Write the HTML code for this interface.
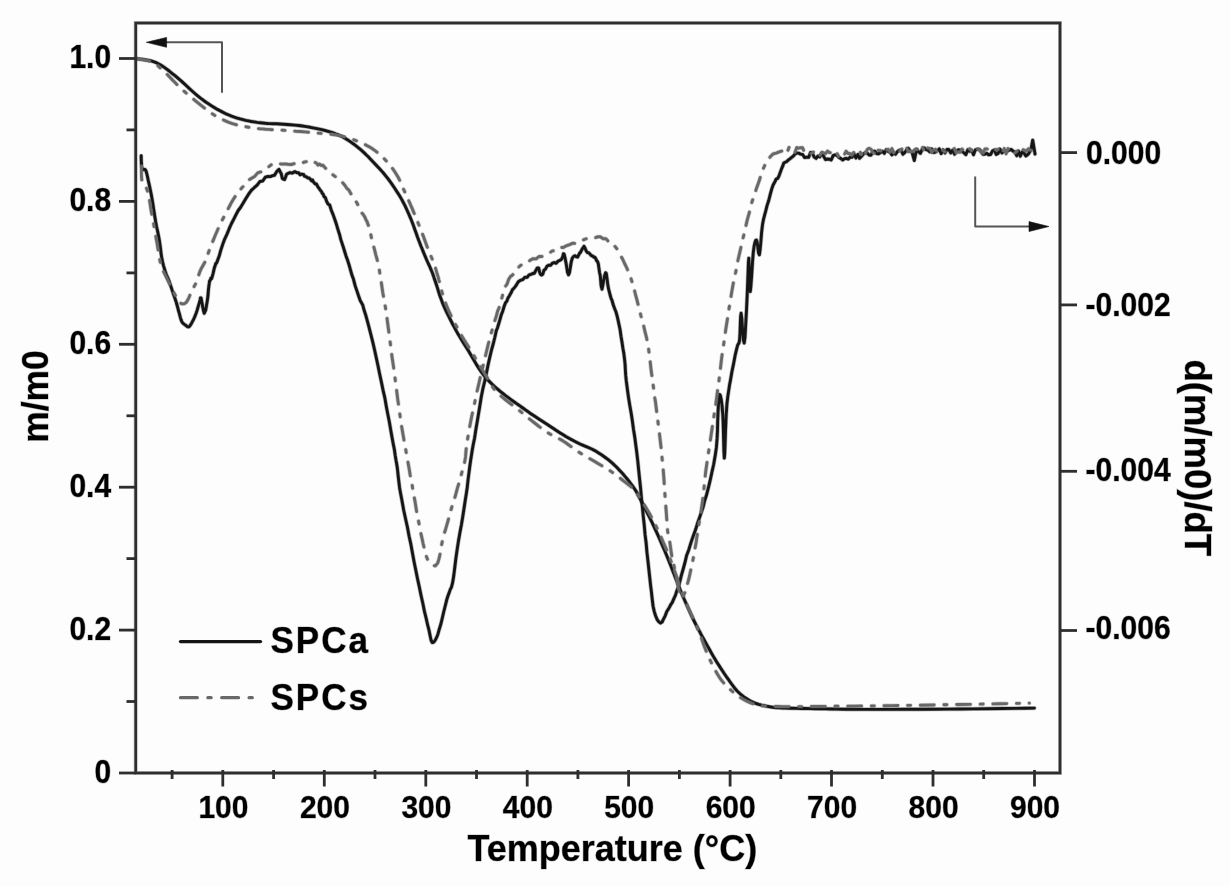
<!DOCTYPE html>
<html><head><meta charset="utf-8"><style>html,body{margin:0;padding:0;background:#fdfdfd;overflow:hidden}svg{display:block;will-change:transform}</style></head><body>
<svg width="1230" height="886" viewBox="0 0 1230 886">
<rect x="0" y="0" width="1230" height="886" fill="#fdfdfd"/>
<path d="M136.0,58.5 L137.8,58.8 L140.3,59.1 L143.3,59.5 L146.4,60.0 L149.4,60.5 L152.0,61.2 L154.2,61.9 L156.1,62.6 L157.9,63.5 L159.7,64.5 L161.7,65.6 L163.9,67.1 L166.4,68.9 L169.2,71.0 L172.0,73.3 L175.0,75.7 L177.9,78.2 L180.8,80.6 L183.6,83.1 L186.4,85.7 L189.2,88.4 L192.1,91.0 L194.9,93.5 L197.7,95.9 L200.5,98.1 L203.3,100.2 L206.1,102.2 L209.0,104.1 L211.8,106.0 L214.6,107.7 L217.4,109.4 L220.3,110.9 L223.1,112.4 L225.9,113.8 L228.8,115.0 L231.6,116.2 L234.4,117.2 L237.2,118.1 L240.1,118.9 L242.9,119.6 L245.7,120.3 L248.5,120.9 L251.3,121.5 L254.2,121.9 L257.1,122.4 L259.9,122.7 L262.7,123.0 L265.4,123.3 L267.9,123.5 L270.1,123.6 L272.3,123.7 L274.6,123.7 L277.1,123.8 L280.0,124.0 L283.3,124.2 L286.9,124.5 L290.8,124.8 L294.8,125.1 L298.7,125.5 L302.6,126.0 L306.4,126.6 L310.4,127.3 L314.3,128.1 L318.2,128.9 L321.8,129.7 L325.1,130.5 L328.1,131.3 L330.8,132.1 L333.3,132.9 L335.6,133.8 L337.8,134.6 L340.0,135.6 L342.1,136.6 L344.0,137.7 L345.9,138.8 L347.7,139.9 L349.5,141.1 L351.3,142.4 L353.2,143.7 L355.1,145.2 L357.0,146.6 L358.8,148.1 L360.7,149.7 L362.6,151.4 L364.5,153.1 L366.4,155.0 L368.3,156.8 L370.1,158.8 L372.0,160.7 L373.9,162.7 L375.8,164.7 L377.7,166.8 L379.6,168.8 L381.5,170.9 L383.4,173.0 L385.1,175.1 L386.7,177.1 L388.3,179.1 L389.8,181.2 L391.3,183.2 L392.7,185.3 L394.2,187.5 L395.7,189.8 L397.2,192.1 L398.8,194.5 L400.3,197.0 L401.8,199.6 L403.2,202.2 L404.6,204.9 L405.9,207.7 L407.2,210.5 L408.5,213.4 L409.8,216.4 L411.1,219.5 L412.4,222.8 L413.7,226.2 L414.9,229.8 L416.2,233.3 L417.4,236.8 L418.6,240.0 L419.8,243.1 L420.9,246.0 L422.1,248.8 L423.2,251.6 L424.3,254.3 L425.4,256.9 L426.5,259.5 L427.6,262.0 L428.7,264.4 L429.8,266.7 L430.7,268.9 L431.6,271.0 L432.3,272.7 L432.8,274.0 L433.2,275.2 L433.7,276.6 L434.2,278.2 L435.0,280.5 L436.0,283.5 L437.2,287.1 L438.4,291.1 L439.7,295.2 L441.1,299.1 L442.4,302.6 L443.7,305.7 L445.0,308.7 L446.3,311.5 L447.6,314.2 L449.0,316.9 L450.3,319.5 L451.6,322.0 L452.8,324.5 L454.1,326.8 L455.4,329.2 L456.7,331.6 L458.2,334.2 L459.9,337.0 L461.6,339.9 L463.5,342.9 L465.4,345.9 L467.3,348.9 L469.0,351.7 L470.6,354.5 L472.2,357.2 L473.8,359.9 L475.3,362.5 L476.7,364.9 L478.1,367.1 L479.4,369.1 L480.5,370.8 L481.6,372.3 L482.7,373.8 L483.9,375.4 L485.3,377.0 L486.9,378.8 L488.5,380.6 L490.3,382.4 L492.2,384.2 L494.1,386.1 L496.1,387.9 L498.2,389.7 L500.5,391.6 L502.9,393.5 L505.3,395.4 L507.6,397.1 L509.7,398.7 L511.6,400.1 L513.3,401.3 L515.0,402.5 L516.6,403.6 L518.2,404.7 L520.0,405.9 L521.8,407.2 L523.6,408.5 L525.5,409.9 L527.4,411.2 L529.4,412.7 L531.6,414.2 L534.0,415.8 L536.6,417.5 L539.2,419.2 L542.0,421.0 L544.7,422.8 L547.4,424.5 L550.0,426.2 L552.7,428.0 L555.3,429.8 L557.9,431.5 L560.6,433.2 L563.2,434.8 L565.8,436.4 L568.5,437.9 L571.1,439.4 L573.7,440.8 L576.4,442.2 L579.0,443.5 L581.6,444.7 L584.3,445.8 L586.9,446.9 L589.5,448.0 L592.2,449.2 L594.8,450.6 L597.5,452.2 L600.2,453.9 L602.9,455.8 L605.6,457.7 L608.2,459.6 L610.6,461.6 L612.9,463.6 L615.1,465.7 L617.2,467.8 L619.2,469.9 L621.2,472.1 L623.2,474.3 L625.2,476.6 L627.2,479.0 L629.1,481.4 L630.9,483.8 L632.7,486.2 L634.3,488.5 L635.7,490.6 L636.8,492.5 L637.8,494.3 L638.8,496.3 L640.0,498.6 L641.5,501.5 L643.3,505.0 L645.3,509.0 L647.5,513.3 L649.8,517.8 L652.0,522.4 L654.2,527.0 L656.3,531.6 L658.5,536.4 L660.6,541.3 L662.7,546.2 L664.8,551.0 L666.8,555.8 L668.8,560.7 L670.8,565.7 L672.7,570.7 L674.6,575.4 L676.2,579.8 L677.7,583.5 L678.8,586.3 L679.6,588.3 L680.2,589.9 L680.9,591.5 L681.7,593.4 L682.8,596.0 L684.3,599.5 L686.1,603.5 L688.1,608.0 L690.1,612.5 L692.1,616.9 L694.1,621.0 L696.0,624.8 L697.9,628.4 L699.8,631.9 L701.6,635.4 L703.5,638.8 L705.4,642.2 L707.3,645.6 L709.2,649.0 L711.0,652.3 L712.9,655.6 L714.8,658.8 L716.7,661.9 L718.6,664.9 L720.5,667.9 L722.4,670.7 L724.2,673.5 L726.1,676.3 L728.0,678.9 L729.8,681.5 L731.6,684.0 L733.4,686.4 L735.2,688.8 L737.2,691.0 L739.2,693.0 L741.4,694.9 L743.6,696.7 L746.0,698.3 L748.4,699.8 L750.9,701.2 L753.4,702.4 L756.0,703.5 L758.8,704.4 L761.6,705.1 L764.4,705.7 L767.3,706.3 L770.0,706.8 L772.6,707.2 L775.0,707.5 L777.4,707.7 L779.9,707.8 L782.6,708.0 L785.7,708.1 L789.2,708.2 L792.9,708.3 L796.9,708.4 L801.0,708.5 L805.5,708.5 L810.1,708.6 L815.0,708.7 L820.2,708.8 L825.5,708.9 L831.1,709.0 L836.8,709.1 L842.6,709.2 L848.1,709.3 L853.1,709.3 L858.3,709.4 L864.2,709.4 L871.2,709.4 L880.0,709.4 L890.9,709.4 L903.7,709.3 L917.7,709.3 L932.2,709.2 L946.5,709.1 L960.0,709.0 L973.6,708.9 L988.0,708.7 L1002.2,708.5 L1015.3,708.4 L1026.4,708.2 L1034.4,708.1" fill="none" stroke="#151515" stroke-opacity="0.3" stroke-width="4.3" stroke-linejoin="round" stroke-linecap="round"/>
<path d="M136.0,58.5 L137.8,58.8 L140.3,59.1 L143.3,59.5 L146.4,60.0 L149.4,60.5 L152.0,61.2 L154.2,61.9 L156.1,62.6 L157.9,63.5 L159.7,64.5 L161.7,65.6 L163.9,67.1 L166.4,68.9 L169.2,71.0 L172.0,73.3 L175.0,75.7 L177.9,78.2 L180.8,80.6 L183.6,83.1 L186.4,85.7 L189.2,88.4 L192.1,91.0 L194.9,93.5 L197.7,95.9 L200.5,98.1 L203.3,100.2 L206.1,102.2 L209.0,104.1 L211.8,106.0 L214.6,107.7 L217.4,109.4 L220.3,110.9 L223.1,112.4 L225.9,113.8 L228.8,115.0 L231.6,116.2 L234.4,117.2 L237.2,118.1 L240.1,118.9 L242.9,119.6 L245.7,120.3 L248.5,120.9 L251.3,121.5 L254.2,121.9 L257.1,122.4 L259.9,122.7 L262.7,123.0 L265.4,123.3 L267.9,123.5 L270.1,123.6 L272.3,123.7 L274.6,123.7 L277.1,123.8 L280.0,124.0 L283.3,124.2 L286.9,124.5 L290.8,124.8 L294.8,125.1 L298.7,125.5 L302.6,126.0 L306.4,126.6 L310.4,127.3 L314.3,128.1 L318.2,128.9 L321.8,129.7 L325.1,130.5 L328.1,131.3 L330.8,132.1 L333.3,132.9 L335.6,133.8 L337.8,134.6 L340.0,135.6 L342.1,136.6 L344.0,137.7 L345.9,138.8 L347.7,139.9 L349.5,141.1 L351.3,142.4 L353.2,143.7 L355.1,145.2 L357.0,146.6 L358.8,148.1 L360.7,149.7 L362.6,151.4 L364.5,153.1 L366.4,155.0 L368.3,156.8 L370.1,158.8 L372.0,160.7 L373.9,162.7 L375.8,164.7 L377.7,166.8 L379.6,168.8 L381.5,170.9 L383.4,173.0 L385.1,175.1 L386.7,177.1 L388.3,179.1 L389.8,181.2 L391.3,183.2 L392.7,185.3 L394.2,187.5 L395.7,189.8 L397.2,192.1 L398.8,194.5 L400.3,197.0 L401.8,199.6 L403.2,202.2 L404.6,204.9 L405.9,207.7 L407.2,210.5 L408.5,213.4 L409.8,216.4 L411.1,219.5 L412.4,222.8 L413.7,226.2 L414.9,229.8 L416.2,233.3 L417.4,236.8 L418.6,240.0 L419.8,243.1 L420.9,246.0 L422.1,248.8 L423.2,251.6 L424.3,254.3 L425.4,256.9 L426.5,259.5 L427.6,262.0 L428.7,264.4 L429.8,266.7 L430.7,268.9 L431.6,271.0 L432.3,272.7 L432.8,274.0 L433.2,275.2 L433.7,276.6 L434.2,278.2 L435.0,280.5 L436.0,283.5 L437.2,287.1 L438.4,291.1 L439.7,295.2 L441.1,299.1 L442.4,302.6 L443.7,305.7 L445.0,308.7 L446.3,311.5 L447.6,314.2 L449.0,316.9 L450.3,319.5 L451.6,322.0 L452.8,324.5 L454.1,326.8 L455.4,329.2 L456.7,331.6 L458.2,334.2 L459.9,337.0 L461.6,339.9 L463.5,342.9 L465.4,345.9 L467.3,348.9 L469.0,351.7 L470.6,354.5 L472.2,357.2 L473.8,359.9 L475.3,362.5 L476.7,364.9 L478.1,367.1 L479.4,369.1 L480.5,370.8 L481.6,372.3 L482.7,373.8 L483.9,375.4 L485.3,377.0 L486.9,378.8 L488.5,380.6 L490.3,382.4 L492.2,384.2 L494.1,386.1 L496.1,387.9 L498.2,389.7 L500.5,391.6 L502.9,393.5 L505.3,395.4 L507.6,397.1 L509.7,398.7 L511.6,400.1 L513.3,401.3 L515.0,402.5 L516.6,403.6 L518.2,404.7 L520.0,405.9 L521.8,407.2 L523.6,408.5 L525.5,409.9 L527.4,411.2 L529.4,412.7 L531.6,414.2 L534.0,415.8 L536.6,417.5 L539.2,419.2 L542.0,421.0 L544.7,422.8 L547.4,424.5 L550.0,426.2 L552.7,428.0 L555.3,429.8 L557.9,431.5 L560.6,433.2 L563.2,434.8 L565.8,436.4 L568.5,437.9 L571.1,439.4 L573.7,440.8 L576.4,442.2 L579.0,443.5 L581.6,444.7 L584.3,445.8 L586.9,446.9 L589.5,448.0 L592.2,449.2 L594.8,450.6 L597.5,452.2 L600.2,453.9 L602.9,455.8 L605.6,457.7 L608.2,459.6 L610.6,461.6 L612.9,463.6 L615.1,465.7 L617.2,467.8 L619.2,469.9 L621.2,472.1 L623.2,474.3 L625.2,476.6 L627.2,479.0 L629.1,481.4 L630.9,483.8 L632.7,486.2 L634.3,488.5 L635.7,490.6 L636.8,492.5 L637.8,494.3 L638.8,496.3 L640.0,498.6 L641.5,501.5 L643.3,505.0 L645.3,509.0 L647.5,513.3 L649.8,517.8 L652.0,522.4 L654.2,527.0 L656.3,531.6 L658.5,536.4 L660.6,541.3 L662.7,546.2 L664.8,551.0 L666.8,555.8 L668.8,560.7 L670.8,565.7 L672.7,570.7 L674.6,575.4 L676.2,579.8 L677.7,583.5 L678.8,586.3 L679.6,588.3 L680.2,589.9 L680.9,591.5 L681.7,593.4 L682.8,596.0 L684.3,599.5 L686.1,603.5 L688.1,608.0 L690.1,612.5 L692.1,616.9 L694.1,621.0 L696.0,624.8 L697.9,628.4 L699.8,631.9 L701.6,635.4 L703.5,638.8 L705.4,642.2 L707.3,645.6 L709.2,649.0 L711.0,652.3 L712.9,655.6 L714.8,658.8 L716.7,661.9 L718.6,664.9 L720.5,667.9 L722.4,670.7 L724.2,673.5 L726.1,676.3 L728.0,678.9 L729.8,681.5 L731.6,684.0 L733.4,686.4 L735.2,688.8 L737.2,691.0 L739.2,693.0 L741.4,694.9 L743.6,696.7 L746.0,698.3 L748.4,699.8 L750.9,701.2 L753.4,702.4 L756.0,703.5 L758.8,704.4 L761.6,705.1 L764.4,705.7 L767.3,706.3 L770.0,706.8 L772.6,707.2 L775.0,707.5 L777.4,707.7 L779.9,707.8 L782.6,708.0 L785.7,708.1 L789.2,708.2 L792.9,708.3 L796.9,708.4 L801.0,708.5 L805.5,708.5 L810.1,708.6 L815.0,708.7 L820.2,708.8 L825.5,708.9 L831.1,709.0 L836.8,709.1 L842.6,709.2 L848.1,709.3 L853.1,709.3 L858.3,709.4 L864.2,709.4 L871.2,709.4 L880.0,709.4 L890.9,709.4 L903.7,709.3 L917.7,709.3 L932.2,709.2 L946.5,709.1 L960.0,709.0 L973.6,708.9 L988.0,708.7 L1002.2,708.5 L1015.3,708.4 L1026.4,708.2 L1034.4,708.1" fill="none" stroke="#151515" stroke-width="2.9" stroke-linejoin="round" stroke-linecap="round"/>
<path d="M141.2,155.8 L141.2,157.8 L141.3,160.7 L141.4,163.7 L141.6,166.0 L141.8,167.4 L142.2,168.3 L142.5,169.0 L143.0,169.5 L143.6,169.7 L144.3,169.4 L145.0,169.5 L145.7,170.3 L146.4,172.1 L147.0,174.6 L147.7,177.7 L148.4,181.1 L149.3,185.0 L150.2,189.4 L151.2,194.2 L152.1,199.2 L153.0,204.7 L153.9,210.6 L154.8,216.5 L155.7,222.0 L156.6,226.8 L157.6,231.3 L158.5,235.6 L159.3,240.0 L160.0,244.6 L160.6,249.2 L161.1,253.8 L161.8,258.0 L162.6,261.9 L163.5,265.6 L164.5,269.0 L165.4,272.0 L166.3,274.5 L167.2,276.6 L168.1,278.6 L169.0,280.8 L169.9,283.4 L170.8,286.1 L171.7,288.9 L172.6,291.6 L173.5,294.3 L174.5,297.1 L175.4,299.8 L176.3,302.4 L177.0,305.0 L177.7,307.5 L178.3,310.0 L179.0,312.4 L179.7,314.8 L180.3,317.3 L181.0,319.6 L181.7,321.4 L182.5,322.7 L183.4,323.6 L184.4,324.4 L185.3,325.0 L186.2,325.7 L187.1,326.5 L188.0,326.9 L188.9,326.8 L189.8,326.0 L190.7,324.7 L191.6,323.1 L192.5,321.4 L193.4,319.7 L194.3,317.8 L195.2,315.6 L196.1,313.3 L197.1,310.4 L198.0,307.1 L199.0,303.9 L199.7,301.5 L200.2,299.5 L200.4,297.9 L200.7,298.3 L201.1,298.1 L201.8,301.8 L202.6,306.3 L203.4,310.3 L204.2,313.3 L204.9,311.9 L205.7,310.1 L206.4,306.1 L207.0,302.6 L207.5,299.3 L208.0,295.5 L208.4,290.0 L208.8,286.7 L209.0,285.0 L209.2,283.9 L209.4,282.1 L209.7,280.6 L210.2,280.5 L210.9,278.1 L211.7,278.4 L212.4,276.0 L213.1,273.3 L213.8,270.3 L214.4,267.6 L215.1,265.9 L215.7,263.5 L216.2,263.4 L216.8,262.5 L217.8,259.8 L219.2,256.0 L220.9,249.9 L222.8,244.1 L224.8,238.8 L226.9,234.4 L229.2,228.7 L231.5,223.5 L233.8,219.1 L236.0,214.7 L238.2,210.5 L240.5,207.5 L242.9,203.5 L245.6,198.9 L248.4,194.4 L251.3,190.4 L254.2,187.7 L257.1,185.2 L259.9,181.5 L262.7,181.0 L265.4,177.1 L267.9,176.5 L270.4,176.6 L272.6,175.6 L274.5,175.3 L275.9,172.9 L277.0,171.3 L278.0,170.1 L279.0,169.4 L280.1,171.7 L281.2,173.6 L282.4,178.6 L283.5,179.2 L284.5,179.6 L285.5,177.3 L286.6,174.2 L288.0,173.4 L290.0,172.6 L292.4,173.1 L294.9,171.6 L297.0,172.7 L298.7,172.8 L300.1,174.8 L301.4,174.1 L302.6,174.3 L303.6,174.4 L304.4,176.1 L305.1,176.4 L306.1,176.6 L307.4,177.8 L308.9,178.0 L310.3,179.1 L311.6,180.8 L312.6,180.0 L313.4,182.0 L314.1,182.6 L315.1,183.9 L316.4,184.0 L317.9,186.9 L319.3,188.7 L320.6,190.6 L321.6,191.8 L322.3,193.5 L323.1,194.0 L324.1,196.7 L325.3,197.5 L326.7,201.5 L328.2,204.2 L329.7,205.0 L331.3,210.2 L333.1,214.6 L334.9,219.8 L336.4,224.2 L337.6,228.3 L338.6,231.6 L339.7,235.0 L340.9,239.9 L342.5,244.6 L344.2,250.0 L346.0,255.9 L347.7,260.6 L349.2,265.3 L350.6,270.4 L352.0,275.3 L353.5,279.3 L355.2,285.9 L357.0,291.1 L358.7,296.3 L360.2,300.5 L361.2,302.3 L361.9,303.6 L362.7,304.9 L363.9,309.5 L365.8,315.4 L368.2,324.2 L370.7,333.8 L372.9,342.7 L374.8,351.0 L376.4,358.4 L378.1,366.2 L379.7,374.2 L381.4,382.1 L383.1,390.4 L384.8,397.7 L386.4,407.0 L387.9,414.7 L389.4,422.2 L390.8,430.4 L392.1,437.8 L393.3,444.2 L394.4,449.6 L395.3,456.0 L396.1,460.8 L396.6,463.4 L397.0,465.9 L397.3,467.8 L397.7,471.3 L398.2,476.2 L398.8,481.2 L399.6,487.9 L400.6,493.4 L402.0,500.8 L403.8,510.8 L405.6,519.0 L407.4,527.1 L409.1,536.2 L410.8,543.9 L412.5,553.2 L414.2,562.4 L415.9,570.7 L417.6,579.1 L419.3,586.9 L421.0,595.2 L422.7,602.8 L424.5,611.6 L426.2,618.5 L427.7,625.2 L429.0,630.2 L430.0,635.1 L431.0,640.0 L432.2,642.5 L433.5,642.3 L435.0,640.6 L436.5,637.7 L437.9,634.2 L439.3,629.1 L440.8,624.3 L442.2,618.5 L443.5,612.7 L444.7,608.0 L445.8,603.7 L446.9,599.2 L448.0,595.7 L449.1,592.9 L450.3,589.4 L451.5,587.1 L452.6,582.7 L453.7,576.1 L454.8,567.2 L455.9,558.3 L457.1,549.9 L458.4,541.4 L459.9,532.7 L461.4,524.8 L462.7,517.0 L463.9,509.2 L465.1,501.3 L466.2,494.4 L467.2,487.6 L468.1,479.4 L468.9,473.4 L469.7,467.0 L470.6,460.5 L471.5,455.0 L472.3,449.8 L473.3,444.2 L474.5,438.5 L476.0,428.7 L477.7,418.8 L479.5,408.1 L481.2,397.2 L482.9,388.6 L484.6,381.6 L486.3,373.7 L488.0,365.3 L489.7,357.6 L491.5,350.0 L493.2,344.0 L494.8,337.5 L496.2,331.1 L497.5,327.7 L498.7,323.8 L500.0,319.3 L501.3,314.7 L502.7,311.2 L504.0,306.8 L505.4,302.9 L506.7,301.4 L508.0,298.0 L509.3,295.9 L510.8,293.3 L512.5,289.6 L514.2,288.0 L516.1,285.4 L518.1,282.0 L520.3,280.3 L522.6,279.7 L524.9,277.3 L527.1,277.4 L529.1,274.9 L531.0,274.4 L532.8,273.5 L534.3,273.3 L535.5,271.0 L536.3,269.8 L537.1,268.1 L537.9,267.9 L538.8,268.2 L539.6,272.2 L540.5,274.3 L541.5,275.0 L542.7,274.3 L544.0,270.2 L545.5,269.1 L547.0,266.2 L548.7,265.1 L550.5,265.4 L552.4,263.2 L554.2,262.5 L556.1,263.3 L558.1,261.1 L559.9,260.3 L561.4,259.4 L562.3,257.6 L562.9,256.2 L563.4,253.8 L564.1,254.0 L565.1,258.2 L566.3,264.6 L567.5,272.3 L568.6,274.8 L569.5,272.6 L570.3,267.7 L571.2,262.1 L572.2,258.3 L573.5,256.5 L575.0,255.7 L576.5,256.8 L577.7,257.0 L578.6,255.1 L579.2,254.0 L579.7,253.0 L580.4,252.5 L581.2,251.0 L582.1,249.1 L583.0,247.9 L584.0,246.3 L585.0,248.0 L586.1,250.8 L587.3,252.5 L588.5,252.6 L589.8,253.8 L591.3,255.7 L592.7,255.9 L593.9,257.2 L594.9,257.2 L595.9,258.9 L596.7,260.9 L597.5,261.5 L598.3,263.7 L599.0,268.6 L599.6,272.8 L600.2,275.2 L600.7,280.4 L601.0,284.8 L601.4,287.0 L602.0,289.2 L602.8,285.5 L603.7,280.1 L604.7,275.4 L605.6,272.7 L606.3,273.5 L607.0,278.4 L607.7,283.9 L608.4,288.2 L609.2,291.3 L610.0,294.5 L611.0,298.1 L612.0,300.3 L613.3,305.0 L614.7,308.8 L616.1,312.3 L617.4,317.1 L618.4,321.8 L619.3,325.9 L620.1,329.7 L621.0,336.2 L621.9,341.6 L622.9,348.2 L623.8,353.3 L624.6,359.6 L625.1,364.6 L625.4,370.8 L625.7,375.2 L626.3,381.0 L627.3,388.7 L628.5,397.4 L629.8,405.6 L631.1,412.8 L632.3,420.5 L633.5,429.4 L634.7,436.8 L635.8,445.1 L636.8,452.7 L637.8,461.4 L638.8,471.4 L639.7,479.9 L640.6,488.3 L641.5,498.7 L642.4,507.3 L643.3,516.6 L644.2,524.5 L645.1,534.9 L646.1,542.7 L647.0,552.8 L647.9,560.6 L648.8,568.8 L649.7,577.1 L650.6,585.4 L651.4,591.8 L652.2,599.0 L653.1,606.3 L654.2,611.4 L655.6,615.8 L657.2,619.6 L658.9,621.9 L660.5,623.1 L662.1,622.0 L663.6,618.9 L665.2,615.8 L666.8,611.5 L668.6,608.8 L670.4,605.3 L672.3,602.4 L674.0,598.4 L675.5,595.2 L676.7,591.2 L678.0,588.2 L679.5,583.0 L681.1,576.4 L682.9,570.0 L684.7,563.5 L686.7,555.2 L688.9,549.4 L691.2,541.9 L693.5,535.2 L695.7,529.3 L697.6,523.0 L699.4,518.0 L701.1,513.1 L702.9,507.9 L704.7,500.6 L706.6,494.7 L708.4,487.6 L710.2,480.2 L711.9,472.3 L713.7,464.2 L715.2,455.6 L716.4,447.4 L717.1,438.4 L717.5,430.2 L717.7,420.5 L718.0,412.7 L718.4,405.8 L718.7,400.9 L719.1,396.5 L719.6,394.5 L720.3,395.3 L721.2,399.3 L722.0,405.5 L722.7,413.1 L723.2,423.8 L723.6,438.7 L723.9,451.0 L724.3,458.1 L724.7,454.4 L725.1,443.4 L725.5,430.6 L725.9,421.8 L726.2,414.4 L726.6,409.3 L726.9,404.0 L727.4,399.8 L728.0,395.1 L728.7,390.6 L729.5,385.2 L730.5,380.0 L731.9,371.8 L733.6,363.6 L735.2,355.1 L736.6,349.2 L737.6,345.3 L738.4,343.9 L739.0,343.0 L739.6,339.9 L740.0,333.5 L740.3,324.2 L740.6,316.5 L741.1,313.2 L741.8,318.7 L742.6,330.1 L743.4,339.8 L744.2,343.1 L745.0,337.3 L745.8,322.6 L746.6,308.2 L747.2,294.8 L747.7,282.2 L748.1,271.7 L748.4,262.6 L748.8,258.2 L749.1,263.5 L749.5,275.4 L749.8,286.0 L750.3,291.5 L750.9,286.1 L751.7,275.1 L752.5,262.1 L753.3,252.4 L754.1,246.4 L754.8,243.0 L755.6,240.5 L756.4,240.0 L757.2,242.2 L757.9,247.7 L758.6,253.2 L759.4,254.8 L760.1,249.7 L760.8,242.4 L761.6,232.4 L762.5,224.7 L763.5,219.3 L764.6,215.1 L765.8,210.7 L767.1,205.4 L768.5,201.3 L770.0,195.4 L771.6,189.4 L773.1,185.0 L774.7,182.1 L776.2,179.0 L777.8,178.3 L779.2,175.3 L780.4,172.0 L781.5,168.9 L782.6,166.4 L783.8,163.0 L785.3,162.2 L786.8,161.5 L788.4,159.9 L789.9,158.8 L791.3,157.7 L792.6,156.7 L793.7,155.7 L794.5,154.6 L796.5,153.1 L798.6,153.1 L800.6,154.1 L802.6,154.5 L804.7,157.6 L806.7,157.1 L808.6,157.4 L810.5,152.5 L812.3,152.8 L814.2,157.1 L816.1,158.4 L818.0,156.0 L819.9,156.9 L821.7,153.6 L823.6,156.1 L825.5,159.6 L827.4,159.0 L829.3,159.2 L831.2,160.0 L833.1,155.7 L835.0,154.9 L836.9,155.2 L838.8,157.4 L840.7,158.4 L842.6,160.0 L844.5,158.7 L846.4,158.3 L848.3,159.1 L850.2,157.0 L852.1,157.2 L854.0,153.9 L855.9,158.0 L857.8,154.4 L859.6,158.3 L861.5,156.3 L863.4,154.0 L865.3,152.6 L867.2,153.1 L869.1,155.1 L871.0,155.2 L872.9,151.5 L874.8,151.1 L876.7,153.6 L878.6,153.8 L880.5,152.5 L882.4,151.3 L884.3,153.4 L886.2,149.7 L888.1,151.3 L890.0,152.1 L891.9,154.9 L893.8,152.9 L895.6,154.2 L897.4,151.7 L899.3,150.1 L901.1,150.1 L902.9,154.3 L904.7,152.6 L906.5,150.1 L908.4,148.3 L910.2,151.1 L912.0,152.0 L914.3,160.5 L916.6,149.2 L918.5,151.7 L920.4,153.3 L922.3,149.1 L924.2,147.9 L926.1,149.7 L928.0,150.2 L929.8,151.8 L931.7,148.9 L933.6,152.5 L935.5,152.1 L937.4,150.7 L939.3,148.9 L941.2,153.6 L943.1,149.8 L945.0,152.9 L946.9,149.5 L948.8,149.5 L950.7,152.9 L952.6,150.2 L954.5,154.2 L956.4,151.6 L958.3,149.8 L960.2,150.1 L962.1,151.4 L964.0,152.9 L965.9,154.6 L967.8,149.8 L969.7,151.3 L971.6,150.2 L973.5,154.7 L975.4,149.8 L977.3,149.2 L979.2,149.3 L981.1,151.3 L983.0,154.3 L984.9,154.2 L986.8,153.3 L988.7,154.9 L990.6,154.5 L992.5,150.9 L994.4,150.0 L996.2,154.5 L998.1,153.4 L1000.0,149.1 L1001.9,152.9 L1003.8,151.2 L1005.7,151.1 L1007.6,150.9 L1009.4,150.1 L1011.2,149.4 L1013.1,151.2 L1014.9,151.9 L1016.7,155.7 L1018.5,151.0 L1020.3,156.2 L1022.2,151.9 L1024.0,153.0 L1025.8,156.0 L1028.4,154.0 L1031.0,149.6 L1032.7,140.1 L1035.0,154.1" fill="none" stroke="#151515" stroke-opacity="0.3" stroke-width="4.3" stroke-linejoin="round" stroke-linecap="round"/>
<path d="M141.2,155.8 L141.2,157.8 L141.3,160.7 L141.4,163.7 L141.6,166.0 L141.8,167.4 L142.2,168.3 L142.5,169.0 L143.0,169.5 L143.6,169.7 L144.3,169.4 L145.0,169.5 L145.7,170.3 L146.4,172.1 L147.0,174.6 L147.7,177.7 L148.4,181.1 L149.3,185.0 L150.2,189.4 L151.2,194.2 L152.1,199.2 L153.0,204.7 L153.9,210.6 L154.8,216.5 L155.7,222.0 L156.6,226.8 L157.6,231.3 L158.5,235.6 L159.3,240.0 L160.0,244.6 L160.6,249.2 L161.1,253.8 L161.8,258.0 L162.6,261.9 L163.5,265.6 L164.5,269.0 L165.4,272.0 L166.3,274.5 L167.2,276.6 L168.1,278.6 L169.0,280.8 L169.9,283.4 L170.8,286.1 L171.7,288.9 L172.6,291.6 L173.5,294.3 L174.5,297.1 L175.4,299.8 L176.3,302.4 L177.0,305.0 L177.7,307.5 L178.3,310.0 L179.0,312.4 L179.7,314.8 L180.3,317.3 L181.0,319.6 L181.7,321.4 L182.5,322.7 L183.4,323.6 L184.4,324.4 L185.3,325.0 L186.2,325.7 L187.1,326.5 L188.0,326.9 L188.9,326.8 L189.8,326.0 L190.7,324.7 L191.6,323.1 L192.5,321.4 L193.4,319.7 L194.3,317.8 L195.2,315.6 L196.1,313.3 L197.1,310.4 L198.0,307.1 L199.0,303.9 L199.7,301.5 L200.2,299.5 L200.4,297.9 L200.7,298.3 L201.1,298.1 L201.8,301.8 L202.6,306.3 L203.4,310.3 L204.2,313.3 L204.9,311.9 L205.7,310.1 L206.4,306.1 L207.0,302.6 L207.5,299.3 L208.0,295.5 L208.4,290.0 L208.8,286.7 L209.0,285.0 L209.2,283.9 L209.4,282.1 L209.7,280.6 L210.2,280.5 L210.9,278.1 L211.7,278.4 L212.4,276.0 L213.1,273.3 L213.8,270.3 L214.4,267.6 L215.1,265.9 L215.7,263.5 L216.2,263.4 L216.8,262.5 L217.8,259.8 L219.2,256.0 L220.9,249.9 L222.8,244.1 L224.8,238.8 L226.9,234.4 L229.2,228.7 L231.5,223.5 L233.8,219.1 L236.0,214.7 L238.2,210.5 L240.5,207.5 L242.9,203.5 L245.6,198.9 L248.4,194.4 L251.3,190.4 L254.2,187.7 L257.1,185.2 L259.9,181.5 L262.7,181.0 L265.4,177.1 L267.9,176.5 L270.4,176.6 L272.6,175.6 L274.5,175.3 L275.9,172.9 L277.0,171.3 L278.0,170.1 L279.0,169.4 L280.1,171.7 L281.2,173.6 L282.4,178.6 L283.5,179.2 L284.5,179.6 L285.5,177.3 L286.6,174.2 L288.0,173.4 L290.0,172.6 L292.4,173.1 L294.9,171.6 L297.0,172.7 L298.7,172.8 L300.1,174.8 L301.4,174.1 L302.6,174.3 L303.6,174.4 L304.4,176.1 L305.1,176.4 L306.1,176.6 L307.4,177.8 L308.9,178.0 L310.3,179.1 L311.6,180.8 L312.6,180.0 L313.4,182.0 L314.1,182.6 L315.1,183.9 L316.4,184.0 L317.9,186.9 L319.3,188.7 L320.6,190.6 L321.6,191.8 L322.3,193.5 L323.1,194.0 L324.1,196.7 L325.3,197.5 L326.7,201.5 L328.2,204.2 L329.7,205.0 L331.3,210.2 L333.1,214.6 L334.9,219.8 L336.4,224.2 L337.6,228.3 L338.6,231.6 L339.7,235.0 L340.9,239.9 L342.5,244.6 L344.2,250.0 L346.0,255.9 L347.7,260.6 L349.2,265.3 L350.6,270.4 L352.0,275.3 L353.5,279.3 L355.2,285.9 L357.0,291.1 L358.7,296.3 L360.2,300.5 L361.2,302.3 L361.9,303.6 L362.7,304.9 L363.9,309.5 L365.8,315.4 L368.2,324.2 L370.7,333.8 L372.9,342.7 L374.8,351.0 L376.4,358.4 L378.1,366.2 L379.7,374.2 L381.4,382.1 L383.1,390.4 L384.8,397.7 L386.4,407.0 L387.9,414.7 L389.4,422.2 L390.8,430.4 L392.1,437.8 L393.3,444.2 L394.4,449.6 L395.3,456.0 L396.1,460.8 L396.6,463.4 L397.0,465.9 L397.3,467.8 L397.7,471.3 L398.2,476.2 L398.8,481.2 L399.6,487.9 L400.6,493.4 L402.0,500.8 L403.8,510.8 L405.6,519.0 L407.4,527.1 L409.1,536.2 L410.8,543.9 L412.5,553.2 L414.2,562.4 L415.9,570.7 L417.6,579.1 L419.3,586.9 L421.0,595.2 L422.7,602.8 L424.5,611.6 L426.2,618.5 L427.7,625.2 L429.0,630.2 L430.0,635.1 L431.0,640.0 L432.2,642.5 L433.5,642.3 L435.0,640.6 L436.5,637.7 L437.9,634.2 L439.3,629.1 L440.8,624.3 L442.2,618.5 L443.5,612.7 L444.7,608.0 L445.8,603.7 L446.9,599.2 L448.0,595.7 L449.1,592.9 L450.3,589.4 L451.5,587.1 L452.6,582.7 L453.7,576.1 L454.8,567.2 L455.9,558.3 L457.1,549.9 L458.4,541.4 L459.9,532.7 L461.4,524.8 L462.7,517.0 L463.9,509.2 L465.1,501.3 L466.2,494.4 L467.2,487.6 L468.1,479.4 L468.9,473.4 L469.7,467.0 L470.6,460.5 L471.5,455.0 L472.3,449.8 L473.3,444.2 L474.5,438.5 L476.0,428.7 L477.7,418.8 L479.5,408.1 L481.2,397.2 L482.9,388.6 L484.6,381.6 L486.3,373.7 L488.0,365.3 L489.7,357.6 L491.5,350.0 L493.2,344.0 L494.8,337.5 L496.2,331.1 L497.5,327.7 L498.7,323.8 L500.0,319.3 L501.3,314.7 L502.7,311.2 L504.0,306.8 L505.4,302.9 L506.7,301.4 L508.0,298.0 L509.3,295.9 L510.8,293.3 L512.5,289.6 L514.2,288.0 L516.1,285.4 L518.1,282.0 L520.3,280.3 L522.6,279.7 L524.9,277.3 L527.1,277.4 L529.1,274.9 L531.0,274.4 L532.8,273.5 L534.3,273.3 L535.5,271.0 L536.3,269.8 L537.1,268.1 L537.9,267.9 L538.8,268.2 L539.6,272.2 L540.5,274.3 L541.5,275.0 L542.7,274.3 L544.0,270.2 L545.5,269.1 L547.0,266.2 L548.7,265.1 L550.5,265.4 L552.4,263.2 L554.2,262.5 L556.1,263.3 L558.1,261.1 L559.9,260.3 L561.4,259.4 L562.3,257.6 L562.9,256.2 L563.4,253.8 L564.1,254.0 L565.1,258.2 L566.3,264.6 L567.5,272.3 L568.6,274.8 L569.5,272.6 L570.3,267.7 L571.2,262.1 L572.2,258.3 L573.5,256.5 L575.0,255.7 L576.5,256.8 L577.7,257.0 L578.6,255.1 L579.2,254.0 L579.7,253.0 L580.4,252.5 L581.2,251.0 L582.1,249.1 L583.0,247.9 L584.0,246.3 L585.0,248.0 L586.1,250.8 L587.3,252.5 L588.5,252.6 L589.8,253.8 L591.3,255.7 L592.7,255.9 L593.9,257.2 L594.9,257.2 L595.9,258.9 L596.7,260.9 L597.5,261.5 L598.3,263.7 L599.0,268.6 L599.6,272.8 L600.2,275.2 L600.7,280.4 L601.0,284.8 L601.4,287.0 L602.0,289.2 L602.8,285.5 L603.7,280.1 L604.7,275.4 L605.6,272.7 L606.3,273.5 L607.0,278.4 L607.7,283.9 L608.4,288.2 L609.2,291.3 L610.0,294.5 L611.0,298.1 L612.0,300.3 L613.3,305.0 L614.7,308.8 L616.1,312.3 L617.4,317.1 L618.4,321.8 L619.3,325.9 L620.1,329.7 L621.0,336.2 L621.9,341.6 L622.9,348.2 L623.8,353.3 L624.6,359.6 L625.1,364.6 L625.4,370.8 L625.7,375.2 L626.3,381.0 L627.3,388.7 L628.5,397.4 L629.8,405.6 L631.1,412.8 L632.3,420.5 L633.5,429.4 L634.7,436.8 L635.8,445.1 L636.8,452.7 L637.8,461.4 L638.8,471.4 L639.7,479.9 L640.6,488.3 L641.5,498.7 L642.4,507.3 L643.3,516.6 L644.2,524.5 L645.1,534.9 L646.1,542.7 L647.0,552.8 L647.9,560.6 L648.8,568.8 L649.7,577.1 L650.6,585.4 L651.4,591.8 L652.2,599.0 L653.1,606.3 L654.2,611.4 L655.6,615.8 L657.2,619.6 L658.9,621.9 L660.5,623.1 L662.1,622.0 L663.6,618.9 L665.2,615.8 L666.8,611.5 L668.6,608.8 L670.4,605.3 L672.3,602.4 L674.0,598.4 L675.5,595.2 L676.7,591.2 L678.0,588.2 L679.5,583.0 L681.1,576.4 L682.9,570.0 L684.7,563.5 L686.7,555.2 L688.9,549.4 L691.2,541.9 L693.5,535.2 L695.7,529.3 L697.6,523.0 L699.4,518.0 L701.1,513.1 L702.9,507.9 L704.7,500.6 L706.6,494.7 L708.4,487.6 L710.2,480.2 L711.9,472.3 L713.7,464.2 L715.2,455.6 L716.4,447.4 L717.1,438.4 L717.5,430.2 L717.7,420.5 L718.0,412.7 L718.4,405.8 L718.7,400.9 L719.1,396.5 L719.6,394.5 L720.3,395.3 L721.2,399.3 L722.0,405.5 L722.7,413.1 L723.2,423.8 L723.6,438.7 L723.9,451.0 L724.3,458.1 L724.7,454.4 L725.1,443.4 L725.5,430.6 L725.9,421.8 L726.2,414.4 L726.6,409.3 L726.9,404.0 L727.4,399.8 L728.0,395.1 L728.7,390.6 L729.5,385.2 L730.5,380.0 L731.9,371.8 L733.6,363.6 L735.2,355.1 L736.6,349.2 L737.6,345.3 L738.4,343.9 L739.0,343.0 L739.6,339.9 L740.0,333.5 L740.3,324.2 L740.6,316.5 L741.1,313.2 L741.8,318.7 L742.6,330.1 L743.4,339.8 L744.2,343.1 L745.0,337.3 L745.8,322.6 L746.6,308.2 L747.2,294.8 L747.7,282.2 L748.1,271.7 L748.4,262.6 L748.8,258.2 L749.1,263.5 L749.5,275.4 L749.8,286.0 L750.3,291.5 L750.9,286.1 L751.7,275.1 L752.5,262.1 L753.3,252.4 L754.1,246.4 L754.8,243.0 L755.6,240.5 L756.4,240.0 L757.2,242.2 L757.9,247.7 L758.6,253.2 L759.4,254.8 L760.1,249.7 L760.8,242.4 L761.6,232.4 L762.5,224.7 L763.5,219.3 L764.6,215.1 L765.8,210.7 L767.1,205.4 L768.5,201.3 L770.0,195.4 L771.6,189.4 L773.1,185.0 L774.7,182.1 L776.2,179.0 L777.8,178.3 L779.2,175.3 L780.4,172.0 L781.5,168.9 L782.6,166.4 L783.8,163.0 L785.3,162.2 L786.8,161.5 L788.4,159.9 L789.9,158.8 L791.3,157.7 L792.6,156.7 L793.7,155.7 L794.5,154.6 L796.5,153.1 L798.6,153.1 L800.6,154.1 L802.6,154.5 L804.7,157.6 L806.7,157.1 L808.6,157.4 L810.5,152.5 L812.3,152.8 L814.2,157.1 L816.1,158.4 L818.0,156.0 L819.9,156.9 L821.7,153.6 L823.6,156.1 L825.5,159.6 L827.4,159.0 L829.3,159.2 L831.2,160.0 L833.1,155.7 L835.0,154.9 L836.9,155.2 L838.8,157.4 L840.7,158.4 L842.6,160.0 L844.5,158.7 L846.4,158.3 L848.3,159.1 L850.2,157.0 L852.1,157.2 L854.0,153.9 L855.9,158.0 L857.8,154.4 L859.6,158.3 L861.5,156.3 L863.4,154.0 L865.3,152.6 L867.2,153.1 L869.1,155.1 L871.0,155.2 L872.9,151.5 L874.8,151.1 L876.7,153.6 L878.6,153.8 L880.5,152.5 L882.4,151.3 L884.3,153.4 L886.2,149.7 L888.1,151.3 L890.0,152.1 L891.9,154.9 L893.8,152.9 L895.6,154.2 L897.4,151.7 L899.3,150.1 L901.1,150.1 L902.9,154.3 L904.7,152.6 L906.5,150.1 L908.4,148.3 L910.2,151.1 L912.0,152.0 L914.3,160.5 L916.6,149.2 L918.5,151.7 L920.4,153.3 L922.3,149.1 L924.2,147.9 L926.1,149.7 L928.0,150.2 L929.8,151.8 L931.7,148.9 L933.6,152.5 L935.5,152.1 L937.4,150.7 L939.3,148.9 L941.2,153.6 L943.1,149.8 L945.0,152.9 L946.9,149.5 L948.8,149.5 L950.7,152.9 L952.6,150.2 L954.5,154.2 L956.4,151.6 L958.3,149.8 L960.2,150.1 L962.1,151.4 L964.0,152.9 L965.9,154.6 L967.8,149.8 L969.7,151.3 L971.6,150.2 L973.5,154.7 L975.4,149.8 L977.3,149.2 L979.2,149.3 L981.1,151.3 L983.0,154.3 L984.9,154.2 L986.8,153.3 L988.7,154.9 L990.6,154.5 L992.5,150.9 L994.4,150.0 L996.2,154.5 L998.1,153.4 L1000.0,149.1 L1001.9,152.9 L1003.8,151.2 L1005.7,151.1 L1007.6,150.9 L1009.4,150.1 L1011.2,149.4 L1013.1,151.2 L1014.9,151.9 L1016.7,155.7 L1018.5,151.0 L1020.3,156.2 L1022.2,151.9 L1024.0,153.0 L1025.8,156.0 L1028.4,154.0 L1031.0,149.6 L1032.7,140.1 L1035.0,154.1" fill="none" stroke="#151515" stroke-width="2.9" stroke-linejoin="round" stroke-linecap="round"/>
<path d="M136.0,58.5 L137.8,58.8 L140.3,59.2 L143.3,59.7 L146.4,60.3 L149.4,61.0 L152.0,62.0 L154.2,63.1 L156.1,64.4 L157.9,65.8 L159.7,67.4 L161.7,69.2 L163.9,71.3 L166.4,73.7 L169.2,76.5 L172.0,79.4 L175.0,82.5 L177.9,85.4 L180.8,88.2 L183.6,90.8 L186.4,93.2 L189.2,95.7 L192.1,98.0 L194.9,100.3 L197.7,102.6 L200.5,104.9 L203.3,107.1 L206.1,109.3 L209.0,111.5 L211.8,113.5 L214.6,115.3 L217.4,117.0 L220.3,118.5 L223.1,119.8 L225.9,121.1 L228.8,122.3 L231.6,123.3 L234.4,124.2 L237.2,125.0 L240.1,125.6 L242.9,126.2 L245.7,126.7 L248.5,127.2 L251.3,127.7 L254.0,128.0 L256.7,128.4 L259.4,128.7 L262.3,128.9 L265.4,129.2 L268.6,129.4 L272.0,129.7 L275.5,129.8 L279.1,130.0 L282.9,130.2 L286.8,130.5 L291.0,130.8 L295.6,131.2 L300.3,131.5 L305.0,131.9 L309.6,132.3 L313.9,132.7 L318.0,133.1 L322.1,133.4 L326.0,133.8 L329.7,134.1 L333.2,134.5 L336.4,135.0 L339.2,135.5 L341.6,136.0 L343.7,136.6 L345.8,137.1 L347.8,137.8 L350.0,138.5 L352.3,139.3 L354.7,140.1 L357.1,141.0 L359.5,142.0 L361.8,143.0 L364.0,144.0 L366.1,145.1 L368.1,146.2 L370.1,147.3 L372.0,148.5 L374.0,149.9 L376.0,151.4 L378.1,153.1 L380.2,155.0 L382.4,157.0 L384.5,159.0 L386.6,161.2 L388.5,163.3 L390.3,165.5 L392.1,167.9 L393.8,170.3 L395.4,172.7 L396.8,175.0 L398.0,177.0 L398.9,178.7 L399.6,180.1 L400.1,181.3 L400.6,182.6 L401.2,184.1 L402.0,186.0 L403.1,188.3 L404.3,190.9 L405.6,193.7 L406.9,196.6 L408.2,199.6 L409.5,202.4 L410.7,205.2 L412.0,208.2 L413.2,211.1 L414.4,213.9 L415.5,216.6 L416.5,219.0 L417.3,221.1 L418.1,222.9 L418.7,224.5 L419.3,226.0 L419.9,227.5 L420.5,229.0 L421.1,230.5 L421.7,232.0 L422.2,233.4 L422.8,234.9 L423.4,236.4 L424.0,238.0 L424.6,239.7 L425.2,241.4 L425.8,243.1 L426.5,245.0 L427.2,246.9 L428.0,249.0 L428.9,251.3 L430.0,253.9 L431.1,256.5 L432.2,259.1 L433.2,261.7 L434.1,264.0 L434.8,266.1 L435.5,268.0 L436.0,269.8 L436.5,271.6 L437.0,273.3 L437.5,275.0 L438.0,276.7 L438.5,278.4 L438.9,280.1 L439.4,281.8 L439.8,283.4 L440.2,285.0 L440.6,286.6 L441.0,288.1 L441.3,289.6 L441.7,291.0 L442.1,292.5 L442.5,294.0 L443.0,295.5 L443.4,297.0 L443.9,298.5 L444.4,300.0 L444.9,301.5 L445.5,303.0 L446.1,304.5 L446.7,306.1 L447.4,307.6 L448.0,309.1 L448.7,310.6 L449.3,312.0 L449.9,313.3 L450.5,314.6 L451.0,315.8 L451.6,317.0 L452.2,318.2 L452.8,319.5 L453.5,320.8 L454.2,322.2 L454.9,323.6 L455.7,324.9 L456.4,326.2 L457.1,327.5 L457.7,328.7 L458.3,329.8 L458.8,330.8 L459.4,331.9 L460.0,333.0 L460.7,334.2 L461.5,335.5 L462.4,337.0 L463.3,338.5 L464.2,340.0 L465.2,341.5 L466.1,343.0 L467.0,344.4 L467.9,345.9 L468.8,347.3 L469.7,348.8 L470.6,350.2 L471.5,351.7 L472.4,353.3 L473.4,354.9 L474.4,356.5 L475.3,358.1 L476.2,359.6 L477.0,361.0 L477.7,362.2 L478.3,363.3 L478.9,364.2 L479.4,365.2 L480.0,366.1 L480.6,367.1 L481.2,368.2 L481.9,369.2 L482.6,370.3 L483.2,371.4 L483.9,372.5 L484.5,373.5 L485.1,374.4 L485.5,375.1 L486.0,375.9 L486.5,376.7 L487.2,377.7 L488.0,379.0 L489.0,380.7 L490.1,382.7 L491.4,384.9 L492.7,387.1 L494.3,389.4 L496.0,391.5 L498.0,393.5 L500.3,395.5 L502.7,397.5 L505.2,399.5 L507.5,401.3 L509.7,403.0 L511.6,404.5 L513.3,405.9 L515.0,407.1 L516.6,408.3 L518.2,409.6 L520.0,411.0 L521.8,412.5 L523.6,414.0 L525.5,415.6 L527.4,417.2 L529.4,418.9 L531.6,420.6 L534.0,422.5 L536.6,424.5 L539.2,426.6 L542.0,428.6 L544.7,430.6 L547.4,432.4 L550.0,434.0 L552.7,435.4 L555.3,436.8 L557.9,438.1 L560.6,439.5 L563.2,441.1 L565.8,442.8 L568.5,444.7 L571.1,446.6 L573.7,448.5 L576.4,450.4 L579.0,452.2 L581.6,453.9 L584.3,455.5 L586.9,457.0 L589.5,458.5 L592.2,460.0 L594.8,461.6 L597.5,463.2 L600.2,464.8 L602.9,466.3 L605.6,467.9 L608.2,469.5 L610.6,471.1 L612.9,472.7 L615.1,474.3 L617.2,475.9 L619.2,477.4 L621.2,479.0 L623.2,480.6 L625.1,482.1 L627.0,483.5 L628.9,485.0 L630.7,486.5 L632.5,488.1 L634.3,490.1 L636.1,492.4 L637.9,494.8 L639.7,497.5 L641.5,500.3 L643.3,503.2 L645.0,506.0 L646.7,508.8 L648.3,511.5 L649.9,514.3 L651.5,517.3 L653.2,520.5 L655.0,524.0 L656.9,528.0 L659.0,532.4 L661.1,537.1 L663.1,541.9 L665.2,546.6 L667.0,551.0 L668.7,555.2 L670.3,559.3 L671.8,563.4 L673.3,567.4 L674.7,571.2 L676.0,575.0 L677.2,578.5 L678.2,581.7 L679.1,584.9 L680.1,588.1 L681.3,591.6 L682.8,595.6 L684.8,600.3 L687.2,605.5 L689.7,611.0 L692.3,616.6 L694.8,621.9 L696.9,626.7 L698.7,631.1 L700.3,635.2 L701.7,639.1 L703.0,642.7 L704.2,646.1 L705.4,649.2 L706.5,651.9 L707.4,654.1 L708.2,656.0 L709.0,657.8 L709.9,659.7 L711.0,661.9 L712.2,664.4 L713.6,667.0 L715.0,669.8 L716.5,672.5 L718.0,675.1 L719.5,677.5 L721.0,679.6 L722.6,681.6 L724.2,683.5 L725.8,685.2 L727.6,687.0 L729.4,688.7 L731.3,690.5 L733.3,692.2 L735.4,694.0 L737.6,695.6 L739.8,697.2 L742.1,698.6 L744.5,699.9 L746.9,701.2 L749.4,702.3 L752.0,703.4 L754.7,704.3 L757.6,705.0 L760.5,705.6 L763.5,705.9 L766.5,706.1 L769.8,706.3 L773.5,706.4 L777.6,706.5 L781.8,706.6 L786.1,706.6 L790.7,706.6 L796.0,706.6 L802.3,706.6 L810.0,706.5 L819.4,706.4 L830.2,706.3 L842.0,706.2 L854.5,706.1 L867.3,706.0 L880.0,705.8 L892.9,705.6 L906.3,705.4 L920.0,705.2 L933.8,705.0 L947.2,704.7 L960.0,704.5 L973.0,704.3 L986.5,704.0 L999.6,703.7 L1011.7,703.5 L1021.9,703.3 L1029.3,703.1" fill="none" stroke="#686868" stroke-opacity="0.3" stroke-width="4.3" stroke-dasharray="13.8 9.8 2.9 9.8" stroke-linecap="round" stroke-linejoin="round"/>
<path d="M136.0,58.5 L137.8,58.8 L140.3,59.2 L143.3,59.7 L146.4,60.3 L149.4,61.0 L152.0,62.0 L154.2,63.1 L156.1,64.4 L157.9,65.8 L159.7,67.4 L161.7,69.2 L163.9,71.3 L166.4,73.7 L169.2,76.5 L172.0,79.4 L175.0,82.5 L177.9,85.4 L180.8,88.2 L183.6,90.8 L186.4,93.2 L189.2,95.7 L192.1,98.0 L194.9,100.3 L197.7,102.6 L200.5,104.9 L203.3,107.1 L206.1,109.3 L209.0,111.5 L211.8,113.5 L214.6,115.3 L217.4,117.0 L220.3,118.5 L223.1,119.8 L225.9,121.1 L228.8,122.3 L231.6,123.3 L234.4,124.2 L237.2,125.0 L240.1,125.6 L242.9,126.2 L245.7,126.7 L248.5,127.2 L251.3,127.7 L254.0,128.0 L256.7,128.4 L259.4,128.7 L262.3,128.9 L265.4,129.2 L268.6,129.4 L272.0,129.7 L275.5,129.8 L279.1,130.0 L282.9,130.2 L286.8,130.5 L291.0,130.8 L295.6,131.2 L300.3,131.5 L305.0,131.9 L309.6,132.3 L313.9,132.7 L318.0,133.1 L322.1,133.4 L326.0,133.8 L329.7,134.1 L333.2,134.5 L336.4,135.0 L339.2,135.5 L341.6,136.0 L343.7,136.6 L345.8,137.1 L347.8,137.8 L350.0,138.5 L352.3,139.3 L354.7,140.1 L357.1,141.0 L359.5,142.0 L361.8,143.0 L364.0,144.0 L366.1,145.1 L368.1,146.2 L370.1,147.3 L372.0,148.5 L374.0,149.9 L376.0,151.4 L378.1,153.1 L380.2,155.0 L382.4,157.0 L384.5,159.0 L386.6,161.2 L388.5,163.3 L390.3,165.5 L392.1,167.9 L393.8,170.3 L395.4,172.7 L396.8,175.0 L398.0,177.0 L398.9,178.7 L399.6,180.1 L400.1,181.3 L400.6,182.6 L401.2,184.1 L402.0,186.0 L403.1,188.3 L404.3,190.9 L405.6,193.7 L406.9,196.6 L408.2,199.6 L409.5,202.4 L410.7,205.2 L412.0,208.2 L413.2,211.1 L414.4,213.9 L415.5,216.6 L416.5,219.0 L417.3,221.1 L418.1,222.9 L418.7,224.5 L419.3,226.0 L419.9,227.5 L420.5,229.0 L421.1,230.5 L421.7,232.0 L422.2,233.4 L422.8,234.9 L423.4,236.4 L424.0,238.0 L424.6,239.7 L425.2,241.4 L425.8,243.1 L426.5,245.0 L427.2,246.9 L428.0,249.0 L428.9,251.3 L430.0,253.9 L431.1,256.5 L432.2,259.1 L433.2,261.7 L434.1,264.0 L434.8,266.1 L435.5,268.0 L436.0,269.8 L436.5,271.6 L437.0,273.3 L437.5,275.0 L438.0,276.7 L438.5,278.4 L438.9,280.1 L439.4,281.8 L439.8,283.4 L440.2,285.0 L440.6,286.6 L441.0,288.1 L441.3,289.6 L441.7,291.0 L442.1,292.5 L442.5,294.0 L443.0,295.5 L443.4,297.0 L443.9,298.5 L444.4,300.0 L444.9,301.5 L445.5,303.0 L446.1,304.5 L446.7,306.1 L447.4,307.6 L448.0,309.1 L448.7,310.6 L449.3,312.0 L449.9,313.3 L450.5,314.6 L451.0,315.8 L451.6,317.0 L452.2,318.2 L452.8,319.5 L453.5,320.8 L454.2,322.2 L454.9,323.6 L455.7,324.9 L456.4,326.2 L457.1,327.5 L457.7,328.7 L458.3,329.8 L458.8,330.8 L459.4,331.9 L460.0,333.0 L460.7,334.2 L461.5,335.5 L462.4,337.0 L463.3,338.5 L464.2,340.0 L465.2,341.5 L466.1,343.0 L467.0,344.4 L467.9,345.9 L468.8,347.3 L469.7,348.8 L470.6,350.2 L471.5,351.7 L472.4,353.3 L473.4,354.9 L474.4,356.5 L475.3,358.1 L476.2,359.6 L477.0,361.0 L477.7,362.2 L478.3,363.3 L478.9,364.2 L479.4,365.2 L480.0,366.1 L480.6,367.1 L481.2,368.2 L481.9,369.2 L482.6,370.3 L483.2,371.4 L483.9,372.5 L484.5,373.5 L485.1,374.4 L485.5,375.1 L486.0,375.9 L486.5,376.7 L487.2,377.7 L488.0,379.0 L489.0,380.7 L490.1,382.7 L491.4,384.9 L492.7,387.1 L494.3,389.4 L496.0,391.5 L498.0,393.5 L500.3,395.5 L502.7,397.5 L505.2,399.5 L507.5,401.3 L509.7,403.0 L511.6,404.5 L513.3,405.9 L515.0,407.1 L516.6,408.3 L518.2,409.6 L520.0,411.0 L521.8,412.5 L523.6,414.0 L525.5,415.6 L527.4,417.2 L529.4,418.9 L531.6,420.6 L534.0,422.5 L536.6,424.5 L539.2,426.6 L542.0,428.6 L544.7,430.6 L547.4,432.4 L550.0,434.0 L552.7,435.4 L555.3,436.8 L557.9,438.1 L560.6,439.5 L563.2,441.1 L565.8,442.8 L568.5,444.7 L571.1,446.6 L573.7,448.5 L576.4,450.4 L579.0,452.2 L581.6,453.9 L584.3,455.5 L586.9,457.0 L589.5,458.5 L592.2,460.0 L594.8,461.6 L597.5,463.2 L600.2,464.8 L602.9,466.3 L605.6,467.9 L608.2,469.5 L610.6,471.1 L612.9,472.7 L615.1,474.3 L617.2,475.9 L619.2,477.4 L621.2,479.0 L623.2,480.6 L625.1,482.1 L627.0,483.5 L628.9,485.0 L630.7,486.5 L632.5,488.1 L634.3,490.1 L636.1,492.4 L637.9,494.8 L639.7,497.5 L641.5,500.3 L643.3,503.2 L645.0,506.0 L646.7,508.8 L648.3,511.5 L649.9,514.3 L651.5,517.3 L653.2,520.5 L655.0,524.0 L656.9,528.0 L659.0,532.4 L661.1,537.1 L663.1,541.9 L665.2,546.6 L667.0,551.0 L668.7,555.2 L670.3,559.3 L671.8,563.4 L673.3,567.4 L674.7,571.2 L676.0,575.0 L677.2,578.5 L678.2,581.7 L679.1,584.9 L680.1,588.1 L681.3,591.6 L682.8,595.6 L684.8,600.3 L687.2,605.5 L689.7,611.0 L692.3,616.6 L694.8,621.9 L696.9,626.7 L698.7,631.1 L700.3,635.2 L701.7,639.1 L703.0,642.7 L704.2,646.1 L705.4,649.2 L706.5,651.9 L707.4,654.1 L708.2,656.0 L709.0,657.8 L709.9,659.7 L711.0,661.9 L712.2,664.4 L713.6,667.0 L715.0,669.8 L716.5,672.5 L718.0,675.1 L719.5,677.5 L721.0,679.6 L722.6,681.6 L724.2,683.5 L725.8,685.2 L727.6,687.0 L729.4,688.7 L731.3,690.5 L733.3,692.2 L735.4,694.0 L737.6,695.6 L739.8,697.2 L742.1,698.6 L744.5,699.9 L746.9,701.2 L749.4,702.3 L752.0,703.4 L754.7,704.3 L757.6,705.0 L760.5,705.6 L763.5,705.9 L766.5,706.1 L769.8,706.3 L773.5,706.4 L777.6,706.5 L781.8,706.6 L786.1,706.6 L790.7,706.6 L796.0,706.6 L802.3,706.6 L810.0,706.5 L819.4,706.4 L830.2,706.3 L842.0,706.2 L854.5,706.1 L867.3,706.0 L880.0,705.8 L892.9,705.6 L906.3,705.4 L920.0,705.2 L933.8,705.0 L947.2,704.7 L960.0,704.5 L973.0,704.3 L986.5,704.0 L999.6,703.7 L1011.7,703.5 L1021.9,703.3 L1029.3,703.1" fill="none" stroke="#686868" stroke-width="2.9" stroke-dasharray="13.8 9.8 2.9 9.8" stroke-linecap="round" stroke-linejoin="round"/>
<path d="M141.5,166.0 L141.5,168.7 L141.4,172.6 L141.5,176.7 L141.8,180.0 L142.5,182.0 L143.5,183.3 L144.5,184.5 L145.5,186.0 L146.3,187.9 L147.1,189.9 L147.8,192.3 L148.5,195.0 L149.2,198.3 L149.8,202.1 L150.4,206.1 L151.0,210.0 L151.7,213.7 L152.4,217.3 L153.1,221.0 L153.8,225.0 L154.6,229.2 L155.3,233.6 L156.1,238.2 L157.0,243.0 L157.9,248.3 L158.8,254.0 L159.7,259.5 L160.9,264.5 L162.3,268.6 L163.8,272.1 L165.4,275.4 L167.2,279.0 L169.2,283.1 L171.3,287.5 L173.4,291.7 L175.3,295.2 L176.9,298.0 L178.2,300.3 L179.5,302.1 L180.8,303.3 L182.2,303.9 L183.6,303.9 L184.9,303.4 L186.2,302.4 L187.4,300.7 L188.6,298.3 L189.7,295.7 L190.7,293.4 L191.7,291.4 L192.6,289.6 L193.5,287.8 L194.3,286.2 L195.0,284.8 L195.7,283.7 L196.3,282.4 L197.0,280.8 L197.7,278.7 L198.4,276.2 L199.2,273.5 L200.2,270.8 L201.6,267.9 L203.4,264.8 L205.1,261.7 L206.5,259.0 L207.2,257.1 L207.6,255.6 L208.0,253.9 L209.0,251.0 L210.8,246.4 L213.1,240.6 L215.6,234.5 L218.0,229.0 L220.3,224.1 L222.5,219.6 L224.8,215.2 L227.0,211.0 L229.1,207.0 L231.0,203.3 L233.1,199.7 L235.5,196.0 L238.4,192.0 L241.8,187.8 L245.2,184.5 L248.5,180.2 L251.6,178.2 L254.7,176.4 L257.7,172.9 L260.9,171.9 L264.2,169.9 L267.6,167.6 L271.1,164.9 L274.5,163.8 L277.9,162.9 L281.2,164.1 L284.6,163.9 L288.0,164.3 L291.5,164.5 L295.1,163.3 L298.5,162.3 L301.6,163.2 L304.2,162.1 L306.5,161.6 L308.6,161.2 L310.6,160.2 L312.6,161.2 L314.4,162.2 L316.2,162.9 L318.0,165.1 L319.6,164.1 L321.2,165.5 L322.9,165.2 L325.1,167.8 L328.2,170.7 L331.8,174.0 L335.5,176.7 L338.7,178.9 L341.2,181.1 L343.3,183.5 L345.1,185.7 L347.0,188.5 L348.9,190.1 L350.8,193.6 L352.5,196.1 L354.0,198.4 L355.1,200.0 L355.8,201.1 L356.4,202.1 L357.2,203.5 L358.1,205.3 L359.0,207.6 L360.0,208.7 L361.0,210.6 L362.0,213.1 L363.0,214.2 L364.0,215.7 L365.0,217.4 L365.9,219.7 L366.8,221.1 L367.7,223.6 L368.5,225.6 L369.2,228.1 L369.8,230.0 L370.4,232.6 L371.0,235.5 L371.7,238.9 L372.4,242.1 L373.2,244.8 L374.0,247.7 L374.9,251.2 L375.8,254.8 L376.8,258.3 L377.6,261.6 L378.2,264.5 L378.7,266.8 L379.2,268.8 L379.8,273.0 L380.5,276.6 L381.2,281.7 L381.9,286.5 L382.7,292.2 L383.5,296.6 L384.4,301.7 L385.4,307.2 L386.4,313.5 L387.5,322.0 L388.6,330.2 L389.7,338.8 L390.9,347.6 L392.0,356.8 L393.2,364.7 L394.4,372.8 L395.5,382.0 L396.6,390.2 L397.7,399.1 L398.8,406.5 L400.0,415.4 L401.3,424.5 L402.8,433.3 L404.3,442.0 L405.6,448.7 L406.8,456.1 L408.0,462.4 L409.1,468.4 L410.1,474.7 L410.9,478.6 L411.5,482.5 L412.2,485.3 L413.0,490.4 L414.0,495.9 L415.2,502.5 L416.4,510.2 L417.6,516.9 L418.7,521.9 L419.9,528.3 L421.0,533.9 L422.1,538.7 L423.2,544.0 L424.3,548.7 L425.4,553.2 L426.6,557.0 L427.9,560.3 L429.3,562.6 L430.8,563.7 L432.2,564.4 L433.6,565.4 L435.1,565.9 L436.6,564.5 L437.9,562.5 L439.1,558.4 L440.1,553.8 L441.1,547.4 L442.4,540.8 L443.9,534.8 L445.7,528.8 L447.5,522.6 L449.2,516.6 L450.9,510.1 L452.6,504.5 L454.3,499.6 L455.9,493.8 L457.4,488.2 L459.0,482.9 L460.4,478.6 L461.6,473.3 L462.6,469.9 L463.5,466.7 L464.3,463.7 L465.0,460.4 L465.6,456.2 L466.0,450.8 L466.6,445.0 L467.7,438.3 L469.5,427.8 L471.8,415.9 L474.3,404.7 L476.7,392.8 L479.0,383.1 L481.3,372.9 L483.5,364.1 L485.8,354.5 L488.1,344.9 L490.5,335.6 L492.8,327.8 L494.8,320.8 L496.4,315.9 L497.6,311.2 L498.8,308.5 L500.0,304.5 L501.3,300.2 L502.6,295.1 L503.9,290.6 L505.4,286.4 L507.0,284.2 L508.7,279.2 L510.5,276.5 L512.6,275.0 L515.0,271.8 L517.7,268.1 L520.6,265.3 L523.5,264.5 L526.5,262.0 L529.7,260.6 L532.9,258.7 L536.1,258.9 L539.2,256.4 L542.3,256.5 L545.5,254.8 L548.8,253.4 L552.3,250.9 L556.0,250.6 L559.7,247.4 L563.2,247.5 L566.5,245.7 L569.7,244.6 L572.8,243.1 L575.8,243.6 L578.6,242.0 L581.4,240.9 L584.0,239.6 L586.7,238.5 L589.4,238.8 L592.1,238.4 L594.8,238.0 L597.5,236.8 L600.3,236.8 L603.2,238.7 L605.9,238.6 L608.4,241.5 L610.5,241.4 L612.2,243.4 L613.9,245.0 L615.6,247.2 L617.4,249.4 L619.2,252.6 L621.0,256.2 L622.8,259.5 L624.6,263.5 L626.5,267.3 L628.3,271.5 L630.0,275.2 L631.5,280.2 L632.8,284.5 L634.1,288.8 L635.4,294.2 L636.8,299.4 L638.1,304.5 L639.5,309.7 L640.9,315.6 L642.3,320.7 L643.8,326.4 L645.1,332.2 L646.3,336.7 L647.2,341.1 L647.8,344.6 L648.4,347.4 L649.0,352.2 L649.6,356.4 L650.3,362.6 L650.9,368.3 L651.6,373.7 L652.4,378.9 L653.2,385.4 L654.0,391.3 L654.8,397.9 L655.6,402.8 L656.4,409.5 L657.1,415.5 L657.9,421.4 L658.7,428.0 L659.5,434.1 L660.4,441.9 L661.1,448.0 L661.8,455.2 L662.4,461.7 L663.0,467.1 L663.5,473.5 L663.9,478.5 L664.1,481.6 L664.3,485.8 L664.6,490.3 L664.9,493.7 L665.2,498.5 L665.5,502.0 L665.9,507.5 L666.3,512.7 L666.8,520.1 L667.2,527.2 L667.7,531.6 L668.1,534.8 L668.6,536.8 L669.0,538.0 L669.5,539.9 L670.0,543.6 L670.6,547.7 L671.3,553.1 L672.0,557.2 L672.9,561.9 L674.0,565.7 L675.0,571.0 L676.0,574.5 L676.8,579.2 L677.6,583.4 L678.3,586.7 L679.0,590.4 L679.8,592.7 L680.5,594.8 L681.2,596.7 L682.0,596.5 L682.8,597.3 L683.5,595.7 L684.3,593.7 L685.0,592.4 L685.7,590.0 L686.3,588.9 L686.9,586.1 L687.7,582.8 L688.7,579.5 L689.8,574.6 L690.9,569.5 L692.0,565.3 L693.0,559.5 L693.9,555.2 L694.8,549.4 L695.6,545.2 L696.3,541.5 L696.8,537.5 L697.4,534.0 L698.0,529.8 L698.7,525.2 L699.5,520.9 L700.2,516.4 L701.0,512.1 L701.7,506.7 L702.5,501.1 L703.1,495.9 L703.8,489.6 L704.4,484.5 L704.9,479.9 L705.4,474.2 L706.0,469.4 L706.6,465.6 L707.1,461.6 L707.7,457.8 L708.5,452.4 L709.6,445.7 L710.8,437.2 L712.1,428.2 L713.2,421.2 L714.1,415.1 L714.9,409.7 L715.6,405.8 L716.4,399.7 L717.2,393.5 L718.0,386.9 L718.9,381.1 L719.6,375.4 L720.2,370.6 L720.7,366.1 L721.2,361.6 L722.0,355.4 L723.1,348.2 L724.5,338.7 L725.9,328.5 L727.4,319.2 L728.8,309.9 L730.2,301.6 L731.7,292.2 L733.5,282.1 L735.6,272.5 L737.9,260.5 L740.3,250.1 L742.7,239.6 L745.1,229.4 L747.4,219.3 L749.7,211.1 L751.8,202.5 L753.5,197.3 L755.0,193.4 L756.4,188.6 L757.9,184.5 L759.4,180.3 L760.8,175.4 L762.3,170.9 L764.0,167.0 L766.0,162.6 L768.2,159.4 L770.5,156.5 L773.1,153.9 L776.2,153.1 L779.8,151.7 L783.0,150.7 L785.3,149.2 L787.2,152.2 L789.1,147.2 L791.0,152.1 L793.0,152.4 L794.9,152.6 L796.8,147.6 L798.7,148.2 L800.6,147.7 L802.5,147.6 L804.5,152.8 L806.4,153.0 L808.3,152.3 L810.3,153.8 L812.2,153.0 L814.2,151.3 L816.1,150.5 L818.0,150.9 L820.0,155.2 L821.9,152.2 L823.8,152.9 L825.6,153.5 L827.5,151.1 L829.4,152.5 L831.2,152.7 L833.1,155.3 L835.0,153.2 L836.8,152.9 L838.7,156.8 L840.5,154.0 L842.4,156.1 L844.3,154.7 L846.1,151.2 L848.0,153.5 L849.9,153.4 L851.8,155.1 L853.8,152.3 L855.7,154.2 L857.6,153.0 L859.5,150.8 L861.4,154.4 L863.3,149.5 L865.2,153.7 L867.2,149.5 L869.1,148.3 L871.0,149.2 L872.9,152.5 L874.8,153.7 L876.7,147.8 L878.6,150.6 L880.5,150.5 L882.4,152.3 L884.3,148.5 L886.2,150.3 L888.1,149.3 L890.0,152.2 L891.9,148.6 L893.8,152.7 L895.6,148.7 L897.4,148.3 L899.2,151.2 L901.0,150.0 L902.8,147.7 L904.6,150.8 L906.5,147.5 L908.3,151.7 L910.1,151.2 L911.9,151.7 L913.7,150.8 L915.5,149.1 L917.3,149.4 L919.1,149.4 L920.9,152.3 L922.7,147.5 L924.5,152.3 L926.3,147.2 L928.2,148.2 L930.0,148.6 L931.8,152.4 L933.6,150.0 L935.4,149.3 L937.2,152.3 L939.0,148.4 L940.9,149.8 L942.8,150.4 L944.8,151.8 L946.7,151.9 L948.6,151.3 L950.5,149.6 L952.4,149.5 L954.3,148.6 L956.2,152.8 L958.2,151.8 L960.1,152.4 L962.0,149.0 L963.9,150.6 L965.8,152.6 L967.8,151.5 L969.7,148.8 L971.6,150.8 L973.5,153.3 L975.4,149.4 L977.3,149.1 L979.2,149.8 L981.2,152.2 L983.1,153.1 L985.0,148.9 L986.9,148.9 L988.8,149.5 L990.8,150.0 L992.7,151.1 L994.6,149.0 L996.5,150.0 L998.4,149.1 L1000.3,153.9 L1002.2,152.4 L1004.2,148.6 L1006.1,153.8 L1008.0,148.6 L1009.8,150.4 L1011.6,154.1 L1013.4,153.1 L1015.2,152.8 L1017.0,151.1 L1018.8,149.8 L1020.6,152.5 L1022.4,149.4 L1024.2,150.1 L1026.0,151.3 L1028.5,148.7 L1031.0,150.4" fill="none" stroke="#686868" stroke-opacity="0.3" stroke-width="4.3" stroke-dasharray="13.8 9.8 2.9 9.8" stroke-linecap="round" stroke-linejoin="round"/>
<path d="M141.5,166.0 L141.5,168.7 L141.4,172.6 L141.5,176.7 L141.8,180.0 L142.5,182.0 L143.5,183.3 L144.5,184.5 L145.5,186.0 L146.3,187.9 L147.1,189.9 L147.8,192.3 L148.5,195.0 L149.2,198.3 L149.8,202.1 L150.4,206.1 L151.0,210.0 L151.7,213.7 L152.4,217.3 L153.1,221.0 L153.8,225.0 L154.6,229.2 L155.3,233.6 L156.1,238.2 L157.0,243.0 L157.9,248.3 L158.8,254.0 L159.7,259.5 L160.9,264.5 L162.3,268.6 L163.8,272.1 L165.4,275.4 L167.2,279.0 L169.2,283.1 L171.3,287.5 L173.4,291.7 L175.3,295.2 L176.9,298.0 L178.2,300.3 L179.5,302.1 L180.8,303.3 L182.2,303.9 L183.6,303.9 L184.9,303.4 L186.2,302.4 L187.4,300.7 L188.6,298.3 L189.7,295.7 L190.7,293.4 L191.7,291.4 L192.6,289.6 L193.5,287.8 L194.3,286.2 L195.0,284.8 L195.7,283.7 L196.3,282.4 L197.0,280.8 L197.7,278.7 L198.4,276.2 L199.2,273.5 L200.2,270.8 L201.6,267.9 L203.4,264.8 L205.1,261.7 L206.5,259.0 L207.2,257.1 L207.6,255.6 L208.0,253.9 L209.0,251.0 L210.8,246.4 L213.1,240.6 L215.6,234.5 L218.0,229.0 L220.3,224.1 L222.5,219.6 L224.8,215.2 L227.0,211.0 L229.1,207.0 L231.0,203.3 L233.1,199.7 L235.5,196.0 L238.4,192.0 L241.8,187.8 L245.2,184.5 L248.5,180.2 L251.6,178.2 L254.7,176.4 L257.7,172.9 L260.9,171.9 L264.2,169.9 L267.6,167.6 L271.1,164.9 L274.5,163.8 L277.9,162.9 L281.2,164.1 L284.6,163.9 L288.0,164.3 L291.5,164.5 L295.1,163.3 L298.5,162.3 L301.6,163.2 L304.2,162.1 L306.5,161.6 L308.6,161.2 L310.6,160.2 L312.6,161.2 L314.4,162.2 L316.2,162.9 L318.0,165.1 L319.6,164.1 L321.2,165.5 L322.9,165.2 L325.1,167.8 L328.2,170.7 L331.8,174.0 L335.5,176.7 L338.7,178.9 L341.2,181.1 L343.3,183.5 L345.1,185.7 L347.0,188.5 L348.9,190.1 L350.8,193.6 L352.5,196.1 L354.0,198.4 L355.1,200.0 L355.8,201.1 L356.4,202.1 L357.2,203.5 L358.1,205.3 L359.0,207.6 L360.0,208.7 L361.0,210.6 L362.0,213.1 L363.0,214.2 L364.0,215.7 L365.0,217.4 L365.9,219.7 L366.8,221.1 L367.7,223.6 L368.5,225.6 L369.2,228.1 L369.8,230.0 L370.4,232.6 L371.0,235.5 L371.7,238.9 L372.4,242.1 L373.2,244.8 L374.0,247.7 L374.9,251.2 L375.8,254.8 L376.8,258.3 L377.6,261.6 L378.2,264.5 L378.7,266.8 L379.2,268.8 L379.8,273.0 L380.5,276.6 L381.2,281.7 L381.9,286.5 L382.7,292.2 L383.5,296.6 L384.4,301.7 L385.4,307.2 L386.4,313.5 L387.5,322.0 L388.6,330.2 L389.7,338.8 L390.9,347.6 L392.0,356.8 L393.2,364.7 L394.4,372.8 L395.5,382.0 L396.6,390.2 L397.7,399.1 L398.8,406.5 L400.0,415.4 L401.3,424.5 L402.8,433.3 L404.3,442.0 L405.6,448.7 L406.8,456.1 L408.0,462.4 L409.1,468.4 L410.1,474.7 L410.9,478.6 L411.5,482.5 L412.2,485.3 L413.0,490.4 L414.0,495.9 L415.2,502.5 L416.4,510.2 L417.6,516.9 L418.7,521.9 L419.9,528.3 L421.0,533.9 L422.1,538.7 L423.2,544.0 L424.3,548.7 L425.4,553.2 L426.6,557.0 L427.9,560.3 L429.3,562.6 L430.8,563.7 L432.2,564.4 L433.6,565.4 L435.1,565.9 L436.6,564.5 L437.9,562.5 L439.1,558.4 L440.1,553.8 L441.1,547.4 L442.4,540.8 L443.9,534.8 L445.7,528.8 L447.5,522.6 L449.2,516.6 L450.9,510.1 L452.6,504.5 L454.3,499.6 L455.9,493.8 L457.4,488.2 L459.0,482.9 L460.4,478.6 L461.6,473.3 L462.6,469.9 L463.5,466.7 L464.3,463.7 L465.0,460.4 L465.6,456.2 L466.0,450.8 L466.6,445.0 L467.7,438.3 L469.5,427.8 L471.8,415.9 L474.3,404.7 L476.7,392.8 L479.0,383.1 L481.3,372.9 L483.5,364.1 L485.8,354.5 L488.1,344.9 L490.5,335.6 L492.8,327.8 L494.8,320.8 L496.4,315.9 L497.6,311.2 L498.8,308.5 L500.0,304.5 L501.3,300.2 L502.6,295.1 L503.9,290.6 L505.4,286.4 L507.0,284.2 L508.7,279.2 L510.5,276.5 L512.6,275.0 L515.0,271.8 L517.7,268.1 L520.6,265.3 L523.5,264.5 L526.5,262.0 L529.7,260.6 L532.9,258.7 L536.1,258.9 L539.2,256.4 L542.3,256.5 L545.5,254.8 L548.8,253.4 L552.3,250.9 L556.0,250.6 L559.7,247.4 L563.2,247.5 L566.5,245.7 L569.7,244.6 L572.8,243.1 L575.8,243.6 L578.6,242.0 L581.4,240.9 L584.0,239.6 L586.7,238.5 L589.4,238.8 L592.1,238.4 L594.8,238.0 L597.5,236.8 L600.3,236.8 L603.2,238.7 L605.9,238.6 L608.4,241.5 L610.5,241.4 L612.2,243.4 L613.9,245.0 L615.6,247.2 L617.4,249.4 L619.2,252.6 L621.0,256.2 L622.8,259.5 L624.6,263.5 L626.5,267.3 L628.3,271.5 L630.0,275.2 L631.5,280.2 L632.8,284.5 L634.1,288.8 L635.4,294.2 L636.8,299.4 L638.1,304.5 L639.5,309.7 L640.9,315.6 L642.3,320.7 L643.8,326.4 L645.1,332.2 L646.3,336.7 L647.2,341.1 L647.8,344.6 L648.4,347.4 L649.0,352.2 L649.6,356.4 L650.3,362.6 L650.9,368.3 L651.6,373.7 L652.4,378.9 L653.2,385.4 L654.0,391.3 L654.8,397.9 L655.6,402.8 L656.4,409.5 L657.1,415.5 L657.9,421.4 L658.7,428.0 L659.5,434.1 L660.4,441.9 L661.1,448.0 L661.8,455.2 L662.4,461.7 L663.0,467.1 L663.5,473.5 L663.9,478.5 L664.1,481.6 L664.3,485.8 L664.6,490.3 L664.9,493.7 L665.2,498.5 L665.5,502.0 L665.9,507.5 L666.3,512.7 L666.8,520.1 L667.2,527.2 L667.7,531.6 L668.1,534.8 L668.6,536.8 L669.0,538.0 L669.5,539.9 L670.0,543.6 L670.6,547.7 L671.3,553.1 L672.0,557.2 L672.9,561.9 L674.0,565.7 L675.0,571.0 L676.0,574.5 L676.8,579.2 L677.6,583.4 L678.3,586.7 L679.0,590.4 L679.8,592.7 L680.5,594.8 L681.2,596.7 L682.0,596.5 L682.8,597.3 L683.5,595.7 L684.3,593.7 L685.0,592.4 L685.7,590.0 L686.3,588.9 L686.9,586.1 L687.7,582.8 L688.7,579.5 L689.8,574.6 L690.9,569.5 L692.0,565.3 L693.0,559.5 L693.9,555.2 L694.8,549.4 L695.6,545.2 L696.3,541.5 L696.8,537.5 L697.4,534.0 L698.0,529.8 L698.7,525.2 L699.5,520.9 L700.2,516.4 L701.0,512.1 L701.7,506.7 L702.5,501.1 L703.1,495.9 L703.8,489.6 L704.4,484.5 L704.9,479.9 L705.4,474.2 L706.0,469.4 L706.6,465.6 L707.1,461.6 L707.7,457.8 L708.5,452.4 L709.6,445.7 L710.8,437.2 L712.1,428.2 L713.2,421.2 L714.1,415.1 L714.9,409.7 L715.6,405.8 L716.4,399.7 L717.2,393.5 L718.0,386.9 L718.9,381.1 L719.6,375.4 L720.2,370.6 L720.7,366.1 L721.2,361.6 L722.0,355.4 L723.1,348.2 L724.5,338.7 L725.9,328.5 L727.4,319.2 L728.8,309.9 L730.2,301.6 L731.7,292.2 L733.5,282.1 L735.6,272.5 L737.9,260.5 L740.3,250.1 L742.7,239.6 L745.1,229.4 L747.4,219.3 L749.7,211.1 L751.8,202.5 L753.5,197.3 L755.0,193.4 L756.4,188.6 L757.9,184.5 L759.4,180.3 L760.8,175.4 L762.3,170.9 L764.0,167.0 L766.0,162.6 L768.2,159.4 L770.5,156.5 L773.1,153.9 L776.2,153.1 L779.8,151.7 L783.0,150.7 L785.3,149.2 L787.2,152.2 L789.1,147.2 L791.0,152.1 L793.0,152.4 L794.9,152.6 L796.8,147.6 L798.7,148.2 L800.6,147.7 L802.5,147.6 L804.5,152.8 L806.4,153.0 L808.3,152.3 L810.3,153.8 L812.2,153.0 L814.2,151.3 L816.1,150.5 L818.0,150.9 L820.0,155.2 L821.9,152.2 L823.8,152.9 L825.6,153.5 L827.5,151.1 L829.4,152.5 L831.2,152.7 L833.1,155.3 L835.0,153.2 L836.8,152.9 L838.7,156.8 L840.5,154.0 L842.4,156.1 L844.3,154.7 L846.1,151.2 L848.0,153.5 L849.9,153.4 L851.8,155.1 L853.8,152.3 L855.7,154.2 L857.6,153.0 L859.5,150.8 L861.4,154.4 L863.3,149.5 L865.2,153.7 L867.2,149.5 L869.1,148.3 L871.0,149.2 L872.9,152.5 L874.8,153.7 L876.7,147.8 L878.6,150.6 L880.5,150.5 L882.4,152.3 L884.3,148.5 L886.2,150.3 L888.1,149.3 L890.0,152.2 L891.9,148.6 L893.8,152.7 L895.6,148.7 L897.4,148.3 L899.2,151.2 L901.0,150.0 L902.8,147.7 L904.6,150.8 L906.5,147.5 L908.3,151.7 L910.1,151.2 L911.9,151.7 L913.7,150.8 L915.5,149.1 L917.3,149.4 L919.1,149.4 L920.9,152.3 L922.7,147.5 L924.5,152.3 L926.3,147.2 L928.2,148.2 L930.0,148.6 L931.8,152.4 L933.6,150.0 L935.4,149.3 L937.2,152.3 L939.0,148.4 L940.9,149.8 L942.8,150.4 L944.8,151.8 L946.7,151.9 L948.6,151.3 L950.5,149.6 L952.4,149.5 L954.3,148.6 L956.2,152.8 L958.2,151.8 L960.1,152.4 L962.0,149.0 L963.9,150.6 L965.8,152.6 L967.8,151.5 L969.7,148.8 L971.6,150.8 L973.5,153.3 L975.4,149.4 L977.3,149.1 L979.2,149.8 L981.2,152.2 L983.1,153.1 L985.0,148.9 L986.9,148.9 L988.8,149.5 L990.8,150.0 L992.7,151.1 L994.6,149.0 L996.5,150.0 L998.4,149.1 L1000.3,153.9 L1002.2,152.4 L1004.2,148.6 L1006.1,153.8 L1008.0,148.6 L1009.8,150.4 L1011.6,154.1 L1013.4,153.1 L1015.2,152.8 L1017.0,151.1 L1018.8,149.8 L1020.6,152.5 L1022.4,149.4 L1024.2,150.1 L1026.0,151.3 L1028.5,148.7 L1031.0,150.4" fill="none" stroke="#686868" stroke-width="2.9" stroke-dasharray="13.8 9.8 2.9 9.8" stroke-linecap="round" stroke-linejoin="round"/>
<rect x="135.7" y="23" width="924.3" height="750" fill="none" stroke="#2e2e2e" stroke-opacity="0.3" stroke-width="4.0"/>
<rect x="135.7" y="23" width="924.3" height="750" fill="none" stroke="#2e2e2e" stroke-width="2.6"/>
<line x1="119" y1="773.0" x2="135.7" y2="773.0" stroke="#2e2e2e" stroke-width="2.8"/>
<line x1="126.5" y1="701.5" x2="135.7" y2="701.5" stroke="#2e2e2e" stroke-width="2.8"/>
<line x1="119" y1="630.1" x2="135.7" y2="630.1" stroke="#2e2e2e" stroke-width="2.8"/>
<line x1="126.5" y1="558.6" x2="135.7" y2="558.6" stroke="#2e2e2e" stroke-width="2.8"/>
<line x1="119" y1="487.2" x2="135.7" y2="487.2" stroke="#2e2e2e" stroke-width="2.8"/>
<line x1="126.5" y1="415.8" x2="135.7" y2="415.8" stroke="#2e2e2e" stroke-width="2.8"/>
<line x1="119" y1="344.3" x2="135.7" y2="344.3" stroke="#2e2e2e" stroke-width="2.8"/>
<line x1="126.5" y1="272.9" x2="135.7" y2="272.9" stroke="#2e2e2e" stroke-width="2.8"/>
<line x1="119" y1="201.4" x2="135.7" y2="201.4" stroke="#2e2e2e" stroke-width="2.8"/>
<line x1="126.5" y1="129.9" x2="135.7" y2="129.9" stroke="#2e2e2e" stroke-width="2.8"/>
<line x1="119" y1="58.5" x2="135.7" y2="58.5" stroke="#2e2e2e" stroke-width="2.8"/>
<line x1="1060" y1="152.6" x2="1077" y2="152.6" stroke="#2e2e2e" stroke-width="2.8"/>
<line x1="1060" y1="304.9" x2="1077" y2="304.9" stroke="#2e2e2e" stroke-width="2.8"/>
<line x1="1060" y1="471.3" x2="1077" y2="471.3" stroke="#2e2e2e" stroke-width="2.8"/>
<line x1="1060" y1="630.5" x2="1077" y2="630.5" stroke="#2e2e2e" stroke-width="2.8"/>
<line x1="172.1" y1="770" x2="172.1" y2="779" stroke="#2e2e2e" stroke-width="2.8"/>
<line x1="222.8" y1="770" x2="222.8" y2="786.5" stroke="#2e2e2e" stroke-width="2.8"/>
<line x1="273.6" y1="770" x2="273.6" y2="779" stroke="#2e2e2e" stroke-width="2.8"/>
<line x1="324.3" y1="770" x2="324.3" y2="786.5" stroke="#2e2e2e" stroke-width="2.8"/>
<line x1="375.0" y1="770" x2="375.0" y2="779" stroke="#2e2e2e" stroke-width="2.8"/>
<line x1="425.8" y1="770" x2="425.8" y2="786.5" stroke="#2e2e2e" stroke-width="2.8"/>
<line x1="476.5" y1="770" x2="476.5" y2="779" stroke="#2e2e2e" stroke-width="2.8"/>
<line x1="527.2" y1="770" x2="527.2" y2="786.5" stroke="#2e2e2e" stroke-width="2.8"/>
<line x1="577.9" y1="770" x2="577.9" y2="779" stroke="#2e2e2e" stroke-width="2.8"/>
<line x1="628.6" y1="770" x2="628.6" y2="786.5" stroke="#2e2e2e" stroke-width="2.8"/>
<line x1="679.4" y1="770" x2="679.4" y2="779" stroke="#2e2e2e" stroke-width="2.8"/>
<line x1="730.1" y1="770" x2="730.1" y2="786.5" stroke="#2e2e2e" stroke-width="2.8"/>
<line x1="780.8" y1="770" x2="780.8" y2="779" stroke="#2e2e2e" stroke-width="2.8"/>
<line x1="831.5" y1="770" x2="831.5" y2="786.5" stroke="#2e2e2e" stroke-width="2.8"/>
<line x1="882.3" y1="770" x2="882.3" y2="779" stroke="#2e2e2e" stroke-width="2.8"/>
<line x1="933.0" y1="770" x2="933.0" y2="786.5" stroke="#2e2e2e" stroke-width="2.8"/>
<line x1="983.7" y1="770" x2="983.7" y2="779" stroke="#2e2e2e" stroke-width="2.8"/>
<line x1="1034.5" y1="770" x2="1034.5" y2="786.5" stroke="#2e2e2e" stroke-width="2.8"/>
<text transform="translate(111.1,782.9) scale(1,1.08)" font-family="Liberation Sans, sans-serif" font-weight="bold" stroke="#000" stroke-opacity="0.28" stroke-width="1.1" paint-order="stroke" font-size="30" text-anchor="end" fill="#000">0</text>
<text transform="translate(111.1,640.0) scale(1,1.08)" font-family="Liberation Sans, sans-serif" font-weight="bold" stroke="#000" stroke-opacity="0.28" stroke-width="1.1" paint-order="stroke" font-size="30" text-anchor="end" fill="#000">0.2</text>
<text transform="translate(111.1,497.1) scale(1,1.08)" font-family="Liberation Sans, sans-serif" font-weight="bold" stroke="#000" stroke-opacity="0.28" stroke-width="1.1" paint-order="stroke" font-size="30" text-anchor="end" fill="#000">0.4</text>
<text transform="translate(111.1,354.2) scale(1,1.08)" font-family="Liberation Sans, sans-serif" font-weight="bold" stroke="#000" stroke-opacity="0.28" stroke-width="1.1" paint-order="stroke" font-size="30" text-anchor="end" fill="#000">0.6</text>
<text transform="translate(111.1,211.3) scale(1,1.08)" font-family="Liberation Sans, sans-serif" font-weight="bold" stroke="#000" stroke-opacity="0.28" stroke-width="1.1" paint-order="stroke" font-size="30" text-anchor="end" fill="#000">0.8</text>
<text transform="translate(111.1,68.4) scale(1,1.08)" font-family="Liberation Sans, sans-serif" font-weight="bold" stroke="#000" stroke-opacity="0.28" stroke-width="1.1" paint-order="stroke" font-size="30" text-anchor="end" fill="#000">1.0</text>
<text transform="translate(1086.0,163.6) scale(1,1.08)" font-family="Liberation Sans, sans-serif" font-weight="bold" stroke="#000" stroke-opacity="0.28" stroke-width="1.1" paint-order="stroke" font-size="30" fill="#000">0.000</text>
<text transform="translate(1085.6,315.9) scale(1,1.08)" font-family="Liberation Sans, sans-serif" font-weight="bold" stroke="#000" stroke-opacity="0.28" stroke-width="1.1" paint-order="stroke" font-size="30" fill="#000">-0.002</text>
<text transform="translate(1085.6,480.5) scale(1,1.08)" font-family="Liberation Sans, sans-serif" font-weight="bold" stroke="#000" stroke-opacity="0.28" stroke-width="1.1" paint-order="stroke" font-size="30" fill="#000">-0.004</text>
<text transform="translate(1085.6,639.2) scale(1,1.08)" font-family="Liberation Sans, sans-serif" font-weight="bold" stroke="#000" stroke-opacity="0.28" stroke-width="1.1" paint-order="stroke" font-size="30" fill="#000">-0.006</text>
<text transform="translate(223.4,818.4) scale(1,1.04)" font-family="Liberation Sans, sans-serif" font-weight="bold" stroke="#000" stroke-opacity="0.28" stroke-width="1.1" paint-order="stroke" font-size="30" text-anchor="middle" fill="#000">100</text>
<text transform="translate(324.9,818.4) scale(1,1.04)" font-family="Liberation Sans, sans-serif" font-weight="bold" stroke="#000" stroke-opacity="0.28" stroke-width="1.1" paint-order="stroke" font-size="30" text-anchor="middle" fill="#000">200</text>
<text transform="translate(426.4,818.4) scale(1,1.04)" font-family="Liberation Sans, sans-serif" font-weight="bold" stroke="#000" stroke-opacity="0.28" stroke-width="1.1" paint-order="stroke" font-size="30" text-anchor="middle" fill="#000">300</text>
<text transform="translate(527.8,818.4) scale(1,1.04)" font-family="Liberation Sans, sans-serif" font-weight="bold" stroke="#000" stroke-opacity="0.28" stroke-width="1.1" paint-order="stroke" font-size="30" text-anchor="middle" fill="#000">400</text>
<text transform="translate(629.2,818.4) scale(1,1.04)" font-family="Liberation Sans, sans-serif" font-weight="bold" stroke="#000" stroke-opacity="0.28" stroke-width="1.1" paint-order="stroke" font-size="30" text-anchor="middle" fill="#000">500</text>
<text transform="translate(730.7,818.4) scale(1,1.04)" font-family="Liberation Sans, sans-serif" font-weight="bold" stroke="#000" stroke-opacity="0.28" stroke-width="1.1" paint-order="stroke" font-size="30" text-anchor="middle" fill="#000">600</text>
<text transform="translate(832.1,818.4) scale(1,1.04)" font-family="Liberation Sans, sans-serif" font-weight="bold" stroke="#000" stroke-opacity="0.28" stroke-width="1.1" paint-order="stroke" font-size="30" text-anchor="middle" fill="#000">700</text>
<text transform="translate(933.6,818.4) scale(1,1.04)" font-family="Liberation Sans, sans-serif" font-weight="bold" stroke="#000" stroke-opacity="0.28" stroke-width="1.1" paint-order="stroke" font-size="30" text-anchor="middle" fill="#000">800</text>
<text transform="translate(1035.0,818.4) scale(1,1.04)" font-family="Liberation Sans, sans-serif" font-weight="bold" stroke="#000" stroke-opacity="0.28" stroke-width="1.1" paint-order="stroke" font-size="30" text-anchor="middle" fill="#000">900</text>
<text transform="translate(612.3,861.3) scale(1,1.03)" font-family="Liberation Sans, sans-serif" font-weight="bold" stroke="#000" stroke-opacity="0.28" stroke-width="1.1" paint-order="stroke" font-size="36" text-anchor="middle" fill="#000">Temperature (°C)</text>
<text transform="translate(48.4,396.5) rotate(-90) scale(1,1.05)" font-family="Liberation Sans, sans-serif" font-weight="bold" stroke="#000" stroke-opacity="0.28" stroke-width="1.1" paint-order="stroke" font-size="35.5" text-anchor="middle" fill="#000">m/m0</text>
<text transform="translate(1185.3,457.8) rotate(90) scale(1,1.03)" font-family="Liberation Sans, sans-serif" font-weight="bold" stroke="#000" stroke-opacity="0.28" stroke-width="1.1" paint-order="stroke" font-size="36.5" text-anchor="middle" fill="#000">d(m/m0)/dT</text>
<line x1="180.5" y1="641.6" x2="260.5" y2="641.6" stroke="#151515" stroke-width="3.3" stroke-linecap="round"/>
<line x1="180.5" y1="697.7" x2="252.5" y2="697.7" stroke="#686868" stroke-width="3.3" stroke-linecap="round" stroke-dasharray="16.8 10.6 3.2 10.6"/>
<text transform="translate(270.5,653) scale(1,1.08)" font-family="Liberation Sans, sans-serif" font-weight="bold" stroke="#000" stroke-opacity="0.28" stroke-width="1.1" paint-order="stroke" font-size="35" letter-spacing="2" fill="#000">SPCa</text>
<text transform="translate(270.5,709.5) scale(1,1.08)" font-family="Liberation Sans, sans-serif" font-weight="bold" stroke="#000" stroke-opacity="0.28" stroke-width="1.1" paint-order="stroke" font-size="35" letter-spacing="2" fill="#000">SPCs</text>
<polyline points="222,92.7 222,42.3 160,42.3" fill="none" stroke="#555" stroke-width="2" stroke-linejoin="round"/>
<polygon points="146.3,42.3 166.6,37.4 166.6,47.3" fill="#111" stroke="#111" stroke-width="0.6" stroke-linejoin="round"/>
<polyline points="975.2,176.5 975.2,226.5 1035,226.5" fill="none" stroke="#555" stroke-width="2" stroke-linejoin="round"/>
<polygon points="1048.9,226.5 1029,221.6 1029,231.5" fill="#111" stroke="#111" stroke-width="0.6" stroke-linejoin="round"/>
</svg>
</body></html>
